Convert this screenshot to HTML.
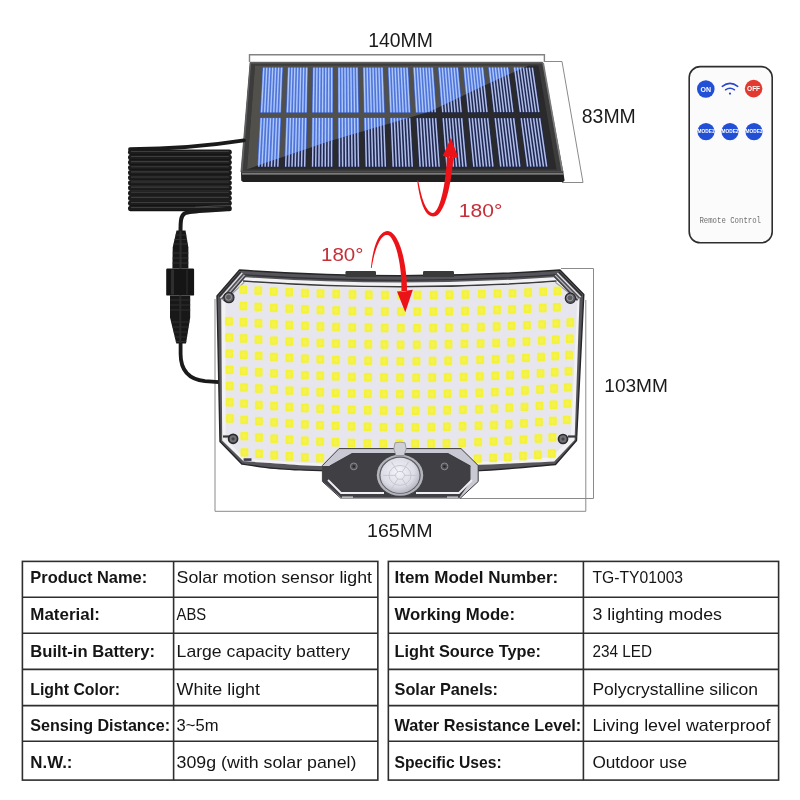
<!DOCTYPE html><html><head><meta charset="utf-8"><style>
html,body{margin:0;padding:0;background:#fff;width:800px;height:800px;overflow:hidden}
svg{position:absolute;left:0;top:0;display:block;will-change:transform}
text{font-family:"Liberation Sans",sans-serif}
</style></head><body>
<svg width="800" height="800" viewBox="0 0 800 800">
<defs>
<clipPath id="brightClip"><polygon points="236,173 330,141 430,111.5 480,87.5 536,62 548,56 236,56"/></clipPath>
<linearGradient id="coilG" x1="0" y1="0" x2="0" y2="1"><stop offset="0" stop-color="#2a2a2a"/><stop offset="1" stop-color="#141414"/></linearGradient>
<radialGradient id="sensG" cx="0.45" cy="0.4" r="0.6"><stop offset="0" stop-color="#f4f4fa"/><stop offset="0.7" stop-color="#dcdce6"/><stop offset="1" stop-color="#b8b8c4"/></radialGradient>
<filter id="ledBlur" x="-5%" y="-5%" width="110%" height="110%"><feGaussianBlur stdDeviation="0.8"/></filter>
<filter id="ledBlur2" x="-5%" y="-5%" width="110%" height="110%"><feGaussianBlur stdDeviation="0.35"/></filter>
</defs>
<path d="M249.5,62 V54.8 H544.4 V62" fill="none" stroke="#828282" stroke-width="1.4"/>
<path d="M544,61.5 H562 L583,182.5 H562" fill="none" stroke="#8a8a8a" stroke-width="1"/>
<path d="M561,268.5 H593.5 V498.5 H460" fill="none" stroke="#8a8a8a" stroke-width="1"/>
<path d="M215,299 V511.3 H585.8 V300" fill="none" stroke="#8a8a8a" stroke-width="1"/>
<polygon points="241,170 563,170 564.6,180.5 563,182 243,182 241.2,180.5" fill="#202020"/>
<line x1="242" y1="173.8" x2="563.5" y2="173.8" stroke="#9a9a9a" stroke-width="1.3"/>
<polygon points="250.2,62.3 542.6,62.3 562.9,172 241,172" fill="#3c3c3c"/>
<polygon points="250.2,62.3 542.6,62.3 562.9,172 241,172" fill="none" stroke="#5a5a5a" stroke-width="1"/>
<line x1="543.2" y1="63" x2="562.2" y2="171" stroke="#7c7c7c" stroke-width="1.6"/>
<line x1="250.5" y1="63.2" x2="242" y2="171" stroke="#606060" stroke-width="1.2"/>
<line x1="251" y1="62.9" x2="542" y2="62.9" stroke="#626262" stroke-width="1.2"/>
<polygon points="255,65.5 538.5,65.5 556.5,169.5 247,169.5" fill="#2a2a2c"/>
<polygon points="255,65.5 538.5,65.5 556.5,169.5 247,169.5" fill="#52504a" clip-path="url(#brightClip)"/>
<g>
<polygon points="262.4,67.2 283.05,67.2 281.37,112.7 260.03,112.7" fill="#1e2850"/>
<polygon points="287.46,67.2 308.12,67.2 307.27,112.7 285.93,112.7" fill="#1e2850"/>
<polygon points="312.53,67.2 333.18,67.2 333.17,112.7 311.83,112.7" fill="#1e2850"/>
<polygon points="337.59,67.2 358.25,67.2 359.06,112.7 337.72,112.7" fill="#1e2850"/>
<polygon points="362.66,67.2 383.31,67.2 384.96,112.7 363.62,112.7" fill="#1e2850"/>
<polygon points="387.72,67.2 408.38,67.2 410.86,112.7 389.52,112.7" fill="#1e2850"/>
<polygon points="412.79,67.2 433.44,67.2 436.76,112.7 415.42,112.7" fill="#1e2850"/>
<polygon points="437.85,67.2 458.51,67.2 462.65,112.7 441.31,112.7" fill="#1e2850"/>
<polygon points="462.92,67.2 483.57,67.2 488.55,112.7 467.21,112.7" fill="#1e2850"/>
<polygon points="487.98,67.2 508.64,67.2 514.45,112.7 493.11,112.7" fill="#1e2850"/>
<polygon points="513.05,67.2 533.7,67.2 540.34,112.7 519,112.7" fill="#1e2850"/>
<polygon points="259.78,117.6 281.19,117.6 279.36,167.2 257.2,167.2" fill="#1e2850"/>
<polygon points="285.77,117.6 307.18,117.6 306.25,167.2 284.09,167.2" fill="#1e2850"/>
<polygon points="311.75,117.6 333.17,117.6 333.15,167.2 310.99,167.2" fill="#1e2850"/>
<polygon points="337.74,117.6 359.15,117.6 360.04,167.2 337.88,167.2" fill="#1e2850"/>
<polygon points="363.73,117.6 385.14,117.6 386.94,167.2 364.78,167.2" fill="#1e2850"/>
<polygon points="389.71,117.6 411.13,117.6 413.83,167.2 391.67,167.2" fill="#1e2850"/>
<polygon points="415.7,117.6 437.11,117.6 440.72,167.2 418.56,167.2" fill="#1e2850"/>
<polygon points="441.69,117.6 463.1,117.6 467.62,167.2 445.46,167.2" fill="#1e2850"/>
<polygon points="467.67,117.6 489.09,117.6 494.51,167.2 472.35,167.2" fill="#1e2850"/>
<polygon points="493.66,117.6 515.07,117.6 521.41,167.2 499.25,167.2" fill="#1e2850"/>
<polygon points="519.65,117.6 541.06,117.6 548.3,167.2 526.14,167.2" fill="#1e2850"/>
<g stroke="#b2bee8" stroke-width="1.5"><line x1="263.85" y1="67.7" x2="261.58" y2="112.2"/><line x1="266.8" y1="67.7" x2="264.63" y2="112.2"/><line x1="269.75" y1="67.7" x2="267.68" y2="112.2"/><line x1="272.7" y1="67.7" x2="270.73" y2="112.2"/><line x1="275.66" y1="67.7" x2="273.77" y2="112.2"/><line x1="278.61" y1="67.7" x2="276.82" y2="112.2"/><line x1="281.56" y1="67.7" x2="279.87" y2="112.2"/><line x1="288.92" y1="67.7" x2="287.47" y2="112.2"/><line x1="291.88" y1="67.7" x2="290.52" y2="112.2"/><line x1="294.83" y1="67.7" x2="293.57" y2="112.2"/><line x1="297.78" y1="67.7" x2="296.61" y2="112.2"/><line x1="300.73" y1="67.7" x2="299.66" y2="112.2"/><line x1="303.68" y1="67.7" x2="302.71" y2="112.2"/><line x1="306.63" y1="67.7" x2="305.76" y2="112.2"/><line x1="314" y1="67.7" x2="313.36" y2="112.2"/><line x1="316.95" y1="67.7" x2="316.41" y2="112.2"/><line x1="319.9" y1="67.7" x2="319.45" y2="112.2"/><line x1="322.85" y1="67.7" x2="322.5" y2="112.2"/><line x1="325.8" y1="67.7" x2="325.55" y2="112.2"/><line x1="328.76" y1="67.7" x2="328.6" y2="112.2"/><line x1="331.71" y1="67.7" x2="331.64" y2="112.2"/><line x1="339.07" y1="67.7" x2="339.25" y2="112.2"/><line x1="342.02" y1="67.7" x2="342.29" y2="112.2"/><line x1="344.97" y1="67.7" x2="345.34" y2="112.2"/><line x1="347.93" y1="67.7" x2="348.39" y2="112.2"/><line x1="350.88" y1="67.7" x2="351.44" y2="112.2"/><line x1="353.83" y1="67.7" x2="354.48" y2="112.2"/><line x1="356.78" y1="67.7" x2="357.53" y2="112.2"/><line x1="364.15" y1="67.7" x2="365.14" y2="112.2"/><line x1="367.1" y1="67.7" x2="368.18" y2="112.2"/><line x1="370.05" y1="67.7" x2="371.23" y2="112.2"/><line x1="373" y1="67.7" x2="374.28" y2="112.2"/><line x1="375.95" y1="67.7" x2="377.32" y2="112.2"/><line x1="378.9" y1="67.7" x2="380.37" y2="112.2"/><line x1="381.85" y1="67.7" x2="383.42" y2="112.2"/><line x1="389.22" y1="67.7" x2="391.02" y2="112.2"/><line x1="392.17" y1="67.7" x2="394.07" y2="112.2"/><line x1="395.12" y1="67.7" x2="397.12" y2="112.2"/><line x1="398.07" y1="67.7" x2="400.16" y2="112.2"/><line x1="401.03" y1="67.7" x2="403.21" y2="112.2"/><line x1="403.98" y1="67.7" x2="406.26" y2="112.2"/><line x1="406.93" y1="67.7" x2="409.31" y2="112.2"/><line x1="414.29" y1="67.7" x2="416.91" y2="112.2"/><line x1="417.24" y1="67.7" x2="419.96" y2="112.2"/><line x1="420.2" y1="67.7" x2="423.01" y2="112.2"/><line x1="423.15" y1="67.7" x2="426.05" y2="112.2"/><line x1="426.1" y1="67.7" x2="429.1" y2="112.2"/><line x1="429.05" y1="67.7" x2="432.15" y2="112.2"/><line x1="432" y1="67.7" x2="435.19" y2="112.2"/><line x1="439.37" y1="67.7" x2="442.8" y2="112.2"/><line x1="442.32" y1="67.7" x2="445.85" y2="112.2"/><line x1="445.27" y1="67.7" x2="448.89" y2="112.2"/><line x1="448.22" y1="67.7" x2="451.94" y2="112.2"/><line x1="451.17" y1="67.7" x2="454.99" y2="112.2"/><line x1="454.12" y1="67.7" x2="458.04" y2="112.2"/><line x1="457.08" y1="67.7" x2="461.08" y2="112.2"/><line x1="464.44" y1="67.7" x2="468.69" y2="112.2"/><line x1="467.39" y1="67.7" x2="471.73" y2="112.2"/><line x1="470.34" y1="67.7" x2="474.78" y2="112.2"/><line x1="473.29" y1="67.7" x2="477.83" y2="112.2"/><line x1="476.25" y1="67.7" x2="480.88" y2="112.2"/><line x1="479.2" y1="67.7" x2="483.92" y2="112.2"/><line x1="482.15" y1="67.7" x2="486.97" y2="112.2"/><line x1="489.51" y1="67.7" x2="494.57" y2="112.2"/><line x1="492.47" y1="67.7" x2="497.62" y2="112.2"/><line x1="495.42" y1="67.7" x2="500.67" y2="112.2"/><line x1="498.37" y1="67.7" x2="503.72" y2="112.2"/><line x1="501.32" y1="67.7" x2="506.76" y2="112.2"/><line x1="504.27" y1="67.7" x2="509.81" y2="112.2"/><line x1="507.22" y1="67.7" x2="512.86" y2="112.2"/><line x1="514.59" y1="67.7" x2="520.46" y2="112.2"/><line x1="517.54" y1="67.7" x2="523.51" y2="112.2"/><line x1="520.49" y1="67.7" x2="526.56" y2="112.2"/><line x1="523.44" y1="67.7" x2="529.6" y2="112.2"/><line x1="526.39" y1="67.7" x2="532.65" y2="112.2"/><line x1="529.35" y1="67.7" x2="535.7" y2="112.2"/><line x1="532.3" y1="67.7" x2="538.75" y2="112.2"/><line x1="261.28" y1="118.1" x2="258.81" y2="166.7"/><line x1="264.34" y1="118.1" x2="261.97" y2="166.7"/><line x1="267.4" y1="118.1" x2="265.14" y2="166.7"/><line x1="270.46" y1="118.1" x2="268.3" y2="166.7"/><line x1="273.52" y1="118.1" x2="271.47" y2="166.7"/><line x1="276.58" y1="118.1" x2="274.63" y2="166.7"/><line x1="279.64" y1="118.1" x2="277.8" y2="166.7"/><line x1="287.28" y1="118.1" x2="285.69" y2="166.7"/><line x1="290.34" y1="118.1" x2="288.86" y2="166.7"/><line x1="293.4" y1="118.1" x2="292.02" y2="166.7"/><line x1="296.46" y1="118.1" x2="295.19" y2="166.7"/><line x1="299.52" y1="118.1" x2="298.35" y2="166.7"/><line x1="302.58" y1="118.1" x2="301.52" y2="166.7"/><line x1="305.64" y1="118.1" x2="304.68" y2="166.7"/><line x1="313.27" y1="118.1" x2="312.58" y2="166.7"/><line x1="316.33" y1="118.1" x2="315.74" y2="166.7"/><line x1="319.39" y1="118.1" x2="318.91" y2="166.7"/><line x1="322.45" y1="118.1" x2="322.07" y2="166.7"/><line x1="325.52" y1="118.1" x2="325.24" y2="166.7"/><line x1="328.58" y1="118.1" x2="328.4" y2="166.7"/><line x1="331.64" y1="118.1" x2="331.57" y2="166.7"/><line x1="339.27" y1="118.1" x2="339.46" y2="166.7"/><line x1="342.33" y1="118.1" x2="342.63" y2="166.7"/><line x1="345.39" y1="118.1" x2="345.79" y2="166.7"/><line x1="348.45" y1="118.1" x2="348.96" y2="166.7"/><line x1="351.51" y1="118.1" x2="352.12" y2="166.7"/><line x1="354.57" y1="118.1" x2="355.29" y2="166.7"/><line x1="357.63" y1="118.1" x2="358.45" y2="166.7"/><line x1="365.27" y1="118.1" x2="366.35" y2="166.7"/><line x1="368.33" y1="118.1" x2="369.51" y2="166.7"/><line x1="371.39" y1="118.1" x2="372.68" y2="166.7"/><line x1="374.45" y1="118.1" x2="375.84" y2="166.7"/><line x1="377.51" y1="118.1" x2="379.01" y2="166.7"/><line x1="380.57" y1="118.1" x2="382.17" y2="166.7"/><line x1="383.63" y1="118.1" x2="385.34" y2="166.7"/><line x1="391.26" y1="118.1" x2="393.23" y2="166.7"/><line x1="394.32" y1="118.1" x2="396.4" y2="166.7"/><line x1="397.38" y1="118.1" x2="399.56" y2="166.7"/><line x1="400.44" y1="118.1" x2="402.73" y2="166.7"/><line x1="403.5" y1="118.1" x2="405.89" y2="166.7"/><line x1="406.56" y1="118.1" x2="409.06" y2="166.7"/><line x1="409.62" y1="118.1" x2="412.22" y2="166.7"/><line x1="417.26" y1="118.1" x2="420.12" y2="166.7"/><line x1="420.32" y1="118.1" x2="423.28" y2="166.7"/><line x1="423.38" y1="118.1" x2="426.45" y2="166.7"/><line x1="426.44" y1="118.1" x2="429.61" y2="166.7"/><line x1="429.5" y1="118.1" x2="432.78" y2="166.7"/><line x1="432.56" y1="118.1" x2="435.94" y2="166.7"/><line x1="435.62" y1="118.1" x2="439.11" y2="166.7"/><line x1="443.25" y1="118.1" x2="447" y2="166.7"/><line x1="446.31" y1="118.1" x2="450.17" y2="166.7"/><line x1="449.37" y1="118.1" x2="453.33" y2="166.7"/><line x1="452.43" y1="118.1" x2="456.5" y2="166.7"/><line x1="455.49" y1="118.1" x2="459.66" y2="166.7"/><line x1="458.55" y1="118.1" x2="462.83" y2="166.7"/><line x1="461.61" y1="118.1" x2="465.99" y2="166.7"/><line x1="469.25" y1="118.1" x2="473.89" y2="166.7"/><line x1="472.31" y1="118.1" x2="477.05" y2="166.7"/><line x1="475.37" y1="118.1" x2="480.22" y2="166.7"/><line x1="478.43" y1="118.1" x2="483.38" y2="166.7"/><line x1="481.49" y1="118.1" x2="486.55" y2="166.7"/><line x1="484.55" y1="118.1" x2="489.71" y2="166.7"/><line x1="487.61" y1="118.1" x2="492.88" y2="166.7"/><line x1="495.25" y1="118.1" x2="500.77" y2="166.7"/><line x1="498.31" y1="118.1" x2="503.94" y2="166.7"/><line x1="501.37" y1="118.1" x2="507.1" y2="166.7"/><line x1="504.43" y1="118.1" x2="510.27" y2="166.7"/><line x1="507.49" y1="118.1" x2="513.43" y2="166.7"/><line x1="510.55" y1="118.1" x2="516.6" y2="166.7"/><line x1="513.61" y1="118.1" x2="519.76" y2="166.7"/><line x1="521.24" y1="118.1" x2="527.66" y2="166.7"/><line x1="524.3" y1="118.1" x2="530.82" y2="166.7"/><line x1="527.36" y1="118.1" x2="533.99" y2="166.7"/><line x1="530.42" y1="118.1" x2="537.15" y2="166.7"/><line x1="533.48" y1="118.1" x2="540.32" y2="166.7"/><line x1="536.54" y1="118.1" x2="543.48" y2="166.7"/><line x1="539.6" y1="118.1" x2="546.64" y2="166.7"/></g>
</g>
<g clip-path="url(#brightClip)">
<polygon points="262.4,67.2 283.05,67.2 281.37,112.7 260.03,112.7" fill="#4f74d8"/>
<polygon points="287.46,67.2 308.12,67.2 307.27,112.7 285.93,112.7" fill="#4f74d8"/>
<polygon points="312.53,67.2 333.18,67.2 333.17,112.7 311.83,112.7" fill="#4f74d8"/>
<polygon points="337.59,67.2 358.25,67.2 359.06,112.7 337.72,112.7" fill="#4f74d8"/>
<polygon points="362.66,67.2 383.31,67.2 384.96,112.7 363.62,112.7" fill="#4f74d8"/>
<polygon points="387.72,67.2 408.38,67.2 410.86,112.7 389.52,112.7" fill="#4f74d8"/>
<polygon points="412.79,67.2 433.44,67.2 436.76,112.7 415.42,112.7" fill="#4f74d8"/>
<polygon points="437.85,67.2 458.51,67.2 462.65,112.7 441.31,112.7" fill="#4f74d8"/>
<polygon points="462.92,67.2 483.57,67.2 488.55,112.7 467.21,112.7" fill="#4f74d8"/>
<polygon points="487.98,67.2 508.64,67.2 514.45,112.7 493.11,112.7" fill="#4f74d8"/>
<polygon points="513.05,67.2 533.7,67.2 540.34,112.7 519,112.7" fill="#4f74d8"/>
<polygon points="259.78,117.6 281.19,117.6 279.36,167.2 257.2,167.2" fill="#4f74d8"/>
<polygon points="285.77,117.6 307.18,117.6 306.25,167.2 284.09,167.2" fill="#4f74d8"/>
<polygon points="311.75,117.6 333.17,117.6 333.15,167.2 310.99,167.2" fill="#4f74d8"/>
<polygon points="337.74,117.6 359.15,117.6 360.04,167.2 337.88,167.2" fill="#4f74d8"/>
<polygon points="363.73,117.6 385.14,117.6 386.94,167.2 364.78,167.2" fill="#4f74d8"/>
<polygon points="389.71,117.6 411.13,117.6 413.83,167.2 391.67,167.2" fill="#4f74d8"/>
<polygon points="415.7,117.6 437.11,117.6 440.72,167.2 418.56,167.2" fill="#4f74d8"/>
<polygon points="441.69,117.6 463.1,117.6 467.62,167.2 445.46,167.2" fill="#4f74d8"/>
<polygon points="467.67,117.6 489.09,117.6 494.51,167.2 472.35,167.2" fill="#4f74d8"/>
<polygon points="493.66,117.6 515.07,117.6 521.41,167.2 499.25,167.2" fill="#4f74d8"/>
<polygon points="519.65,117.6 541.06,117.6 548.3,167.2 526.14,167.2" fill="#4f74d8"/>
<g stroke="#aec8fc" stroke-width="1.4"><line x1="263.85" y1="67.7" x2="261.58" y2="112.2"/><line x1="266.8" y1="67.7" x2="264.63" y2="112.2"/><line x1="269.75" y1="67.7" x2="267.68" y2="112.2"/><line x1="272.7" y1="67.7" x2="270.73" y2="112.2"/><line x1="275.66" y1="67.7" x2="273.77" y2="112.2"/><line x1="278.61" y1="67.7" x2="276.82" y2="112.2"/><line x1="281.56" y1="67.7" x2="279.87" y2="112.2"/><line x1="288.92" y1="67.7" x2="287.47" y2="112.2"/><line x1="291.88" y1="67.7" x2="290.52" y2="112.2"/><line x1="294.83" y1="67.7" x2="293.57" y2="112.2"/><line x1="297.78" y1="67.7" x2="296.61" y2="112.2"/><line x1="300.73" y1="67.7" x2="299.66" y2="112.2"/><line x1="303.68" y1="67.7" x2="302.71" y2="112.2"/><line x1="306.63" y1="67.7" x2="305.76" y2="112.2"/><line x1="314" y1="67.7" x2="313.36" y2="112.2"/><line x1="316.95" y1="67.7" x2="316.41" y2="112.2"/><line x1="319.9" y1="67.7" x2="319.45" y2="112.2"/><line x1="322.85" y1="67.7" x2="322.5" y2="112.2"/><line x1="325.8" y1="67.7" x2="325.55" y2="112.2"/><line x1="328.76" y1="67.7" x2="328.6" y2="112.2"/><line x1="331.71" y1="67.7" x2="331.64" y2="112.2"/><line x1="339.07" y1="67.7" x2="339.25" y2="112.2"/><line x1="342.02" y1="67.7" x2="342.29" y2="112.2"/><line x1="344.97" y1="67.7" x2="345.34" y2="112.2"/><line x1="347.93" y1="67.7" x2="348.39" y2="112.2"/><line x1="350.88" y1="67.7" x2="351.44" y2="112.2"/><line x1="353.83" y1="67.7" x2="354.48" y2="112.2"/><line x1="356.78" y1="67.7" x2="357.53" y2="112.2"/><line x1="364.15" y1="67.7" x2="365.14" y2="112.2"/><line x1="367.1" y1="67.7" x2="368.18" y2="112.2"/><line x1="370.05" y1="67.7" x2="371.23" y2="112.2"/><line x1="373" y1="67.7" x2="374.28" y2="112.2"/><line x1="375.95" y1="67.7" x2="377.32" y2="112.2"/><line x1="378.9" y1="67.7" x2="380.37" y2="112.2"/><line x1="381.85" y1="67.7" x2="383.42" y2="112.2"/><line x1="389.22" y1="67.7" x2="391.02" y2="112.2"/><line x1="392.17" y1="67.7" x2="394.07" y2="112.2"/><line x1="395.12" y1="67.7" x2="397.12" y2="112.2"/><line x1="398.07" y1="67.7" x2="400.16" y2="112.2"/><line x1="401.03" y1="67.7" x2="403.21" y2="112.2"/><line x1="403.98" y1="67.7" x2="406.26" y2="112.2"/><line x1="406.93" y1="67.7" x2="409.31" y2="112.2"/><line x1="414.29" y1="67.7" x2="416.91" y2="112.2"/><line x1="417.24" y1="67.7" x2="419.96" y2="112.2"/><line x1="420.2" y1="67.7" x2="423.01" y2="112.2"/><line x1="423.15" y1="67.7" x2="426.05" y2="112.2"/><line x1="426.1" y1="67.7" x2="429.1" y2="112.2"/><line x1="429.05" y1="67.7" x2="432.15" y2="112.2"/><line x1="432" y1="67.7" x2="435.19" y2="112.2"/><line x1="439.37" y1="67.7" x2="442.8" y2="112.2"/><line x1="442.32" y1="67.7" x2="445.85" y2="112.2"/><line x1="445.27" y1="67.7" x2="448.89" y2="112.2"/><line x1="448.22" y1="67.7" x2="451.94" y2="112.2"/><line x1="451.17" y1="67.7" x2="454.99" y2="112.2"/><line x1="454.12" y1="67.7" x2="458.04" y2="112.2"/><line x1="457.08" y1="67.7" x2="461.08" y2="112.2"/><line x1="464.44" y1="67.7" x2="468.69" y2="112.2"/><line x1="467.39" y1="67.7" x2="471.73" y2="112.2"/><line x1="470.34" y1="67.7" x2="474.78" y2="112.2"/><line x1="473.29" y1="67.7" x2="477.83" y2="112.2"/><line x1="476.25" y1="67.7" x2="480.88" y2="112.2"/><line x1="479.2" y1="67.7" x2="483.92" y2="112.2"/><line x1="482.15" y1="67.7" x2="486.97" y2="112.2"/><line x1="489.51" y1="67.7" x2="494.57" y2="112.2"/><line x1="492.47" y1="67.7" x2="497.62" y2="112.2"/><line x1="495.42" y1="67.7" x2="500.67" y2="112.2"/><line x1="498.37" y1="67.7" x2="503.72" y2="112.2"/><line x1="501.32" y1="67.7" x2="506.76" y2="112.2"/><line x1="504.27" y1="67.7" x2="509.81" y2="112.2"/><line x1="507.22" y1="67.7" x2="512.86" y2="112.2"/><line x1="514.59" y1="67.7" x2="520.46" y2="112.2"/><line x1="517.54" y1="67.7" x2="523.51" y2="112.2"/><line x1="520.49" y1="67.7" x2="526.56" y2="112.2"/><line x1="523.44" y1="67.7" x2="529.6" y2="112.2"/><line x1="526.39" y1="67.7" x2="532.65" y2="112.2"/><line x1="529.35" y1="67.7" x2="535.7" y2="112.2"/><line x1="532.3" y1="67.7" x2="538.75" y2="112.2"/><line x1="261.28" y1="118.1" x2="258.81" y2="166.7"/><line x1="264.34" y1="118.1" x2="261.97" y2="166.7"/><line x1="267.4" y1="118.1" x2="265.14" y2="166.7"/><line x1="270.46" y1="118.1" x2="268.3" y2="166.7"/><line x1="273.52" y1="118.1" x2="271.47" y2="166.7"/><line x1="276.58" y1="118.1" x2="274.63" y2="166.7"/><line x1="279.64" y1="118.1" x2="277.8" y2="166.7"/><line x1="287.28" y1="118.1" x2="285.69" y2="166.7"/><line x1="290.34" y1="118.1" x2="288.86" y2="166.7"/><line x1="293.4" y1="118.1" x2="292.02" y2="166.7"/><line x1="296.46" y1="118.1" x2="295.19" y2="166.7"/><line x1="299.52" y1="118.1" x2="298.35" y2="166.7"/><line x1="302.58" y1="118.1" x2="301.52" y2="166.7"/><line x1="305.64" y1="118.1" x2="304.68" y2="166.7"/><line x1="313.27" y1="118.1" x2="312.58" y2="166.7"/><line x1="316.33" y1="118.1" x2="315.74" y2="166.7"/><line x1="319.39" y1="118.1" x2="318.91" y2="166.7"/><line x1="322.45" y1="118.1" x2="322.07" y2="166.7"/><line x1="325.52" y1="118.1" x2="325.24" y2="166.7"/><line x1="328.58" y1="118.1" x2="328.4" y2="166.7"/><line x1="331.64" y1="118.1" x2="331.57" y2="166.7"/><line x1="339.27" y1="118.1" x2="339.46" y2="166.7"/><line x1="342.33" y1="118.1" x2="342.63" y2="166.7"/><line x1="345.39" y1="118.1" x2="345.79" y2="166.7"/><line x1="348.45" y1="118.1" x2="348.96" y2="166.7"/><line x1="351.51" y1="118.1" x2="352.12" y2="166.7"/><line x1="354.57" y1="118.1" x2="355.29" y2="166.7"/><line x1="357.63" y1="118.1" x2="358.45" y2="166.7"/><line x1="365.27" y1="118.1" x2="366.35" y2="166.7"/><line x1="368.33" y1="118.1" x2="369.51" y2="166.7"/><line x1="371.39" y1="118.1" x2="372.68" y2="166.7"/><line x1="374.45" y1="118.1" x2="375.84" y2="166.7"/><line x1="377.51" y1="118.1" x2="379.01" y2="166.7"/><line x1="380.57" y1="118.1" x2="382.17" y2="166.7"/><line x1="383.63" y1="118.1" x2="385.34" y2="166.7"/><line x1="391.26" y1="118.1" x2="393.23" y2="166.7"/><line x1="394.32" y1="118.1" x2="396.4" y2="166.7"/><line x1="397.38" y1="118.1" x2="399.56" y2="166.7"/><line x1="400.44" y1="118.1" x2="402.73" y2="166.7"/><line x1="403.5" y1="118.1" x2="405.89" y2="166.7"/><line x1="406.56" y1="118.1" x2="409.06" y2="166.7"/><line x1="409.62" y1="118.1" x2="412.22" y2="166.7"/><line x1="417.26" y1="118.1" x2="420.12" y2="166.7"/><line x1="420.32" y1="118.1" x2="423.28" y2="166.7"/><line x1="423.38" y1="118.1" x2="426.45" y2="166.7"/><line x1="426.44" y1="118.1" x2="429.61" y2="166.7"/><line x1="429.5" y1="118.1" x2="432.78" y2="166.7"/><line x1="432.56" y1="118.1" x2="435.94" y2="166.7"/><line x1="435.62" y1="118.1" x2="439.11" y2="166.7"/><line x1="443.25" y1="118.1" x2="447" y2="166.7"/><line x1="446.31" y1="118.1" x2="450.17" y2="166.7"/><line x1="449.37" y1="118.1" x2="453.33" y2="166.7"/><line x1="452.43" y1="118.1" x2="456.5" y2="166.7"/><line x1="455.49" y1="118.1" x2="459.66" y2="166.7"/><line x1="458.55" y1="118.1" x2="462.83" y2="166.7"/><line x1="461.61" y1="118.1" x2="465.99" y2="166.7"/><line x1="469.25" y1="118.1" x2="473.89" y2="166.7"/><line x1="472.31" y1="118.1" x2="477.05" y2="166.7"/><line x1="475.37" y1="118.1" x2="480.22" y2="166.7"/><line x1="478.43" y1="118.1" x2="483.38" y2="166.7"/><line x1="481.49" y1="118.1" x2="486.55" y2="166.7"/><line x1="484.55" y1="118.1" x2="489.71" y2="166.7"/><line x1="487.61" y1="118.1" x2="492.88" y2="166.7"/><line x1="495.25" y1="118.1" x2="500.77" y2="166.7"/><line x1="498.31" y1="118.1" x2="503.94" y2="166.7"/><line x1="501.37" y1="118.1" x2="507.1" y2="166.7"/><line x1="504.43" y1="118.1" x2="510.27" y2="166.7"/><line x1="507.49" y1="118.1" x2="513.43" y2="166.7"/><line x1="510.55" y1="118.1" x2="516.6" y2="166.7"/><line x1="513.61" y1="118.1" x2="519.76" y2="166.7"/><line x1="521.24" y1="118.1" x2="527.66" y2="166.7"/><line x1="524.3" y1="118.1" x2="530.82" y2="166.7"/><line x1="527.36" y1="118.1" x2="533.99" y2="166.7"/><line x1="530.42" y1="118.1" x2="537.15" y2="166.7"/><line x1="533.48" y1="118.1" x2="540.32" y2="166.7"/><line x1="536.54" y1="118.1" x2="543.48" y2="166.7"/><line x1="539.6" y1="118.1" x2="546.64" y2="166.7"/></g>
</g>
<rect x="128" y="149.6" width="103.8" height="5.3" rx="2.55" fill="#1c1c1c"/>
<line x1="131" y1="151.44" x2="228.8" y2="151.44" stroke="#3d3d3d" stroke-width="1.1"/>
<line x1="130" y1="154.7" x2="229.8" y2="154.7" stroke="#0d0d0d" stroke-width="0.8"/>
<rect x="128" y="154.7" width="103.8" height="5.3" rx="2.55" fill="#1c1c1c"/>
<line x1="131" y1="156.54" x2="228.8" y2="156.54" stroke="#3d3d3d" stroke-width="1.1"/>
<line x1="130" y1="159.8" x2="229.8" y2="159.8" stroke="#0d0d0d" stroke-width="0.8"/>
<rect x="128" y="159.8" width="103.8" height="5.3" rx="2.55" fill="#1c1c1c"/>
<line x1="131" y1="161.64" x2="228.8" y2="161.64" stroke="#3d3d3d" stroke-width="1.1"/>
<line x1="130" y1="164.9" x2="229.8" y2="164.9" stroke="#0d0d0d" stroke-width="0.8"/>
<rect x="128" y="164.9" width="103.8" height="5.3" rx="2.55" fill="#1c1c1c"/>
<line x1="131" y1="166.74" x2="228.8" y2="166.74" stroke="#3d3d3d" stroke-width="1.1"/>
<line x1="130" y1="170" x2="229.8" y2="170" stroke="#0d0d0d" stroke-width="0.8"/>
<rect x="128" y="170" width="103.8" height="5.3" rx="2.55" fill="#1c1c1c"/>
<line x1="131" y1="171.84" x2="228.8" y2="171.84" stroke="#3d3d3d" stroke-width="1.1"/>
<line x1="130" y1="175.1" x2="229.8" y2="175.1" stroke="#0d0d0d" stroke-width="0.8"/>
<rect x="128" y="175.1" width="103.8" height="5.3" rx="2.55" fill="#1c1c1c"/>
<line x1="131" y1="176.94" x2="228.8" y2="176.94" stroke="#3d3d3d" stroke-width="1.1"/>
<line x1="130" y1="180.2" x2="229.8" y2="180.2" stroke="#0d0d0d" stroke-width="0.8"/>
<rect x="128" y="180.2" width="103.8" height="5.3" rx="2.55" fill="#1c1c1c"/>
<line x1="131" y1="182.04" x2="228.8" y2="182.04" stroke="#3d3d3d" stroke-width="1.1"/>
<line x1="130" y1="185.3" x2="229.8" y2="185.3" stroke="#0d0d0d" stroke-width="0.8"/>
<rect x="128" y="185.3" width="103.8" height="5.3" rx="2.55" fill="#1c1c1c"/>
<line x1="131" y1="187.14" x2="228.8" y2="187.14" stroke="#3d3d3d" stroke-width="1.1"/>
<line x1="130" y1="190.4" x2="229.8" y2="190.4" stroke="#0d0d0d" stroke-width="0.8"/>
<rect x="128" y="190.4" width="103.8" height="5.3" rx="2.55" fill="#1c1c1c"/>
<line x1="131" y1="192.24" x2="228.8" y2="192.24" stroke="#3d3d3d" stroke-width="1.1"/>
<line x1="130" y1="195.5" x2="229.8" y2="195.5" stroke="#0d0d0d" stroke-width="0.8"/>
<rect x="128" y="195.5" width="103.8" height="5.3" rx="2.55" fill="#1c1c1c"/>
<line x1="131" y1="197.34" x2="228.8" y2="197.34" stroke="#3d3d3d" stroke-width="1.1"/>
<line x1="130" y1="200.6" x2="229.8" y2="200.6" stroke="#0d0d0d" stroke-width="0.8"/>
<rect x="128" y="200.6" width="103.8" height="5.3" rx="2.55" fill="#1c1c1c"/>
<line x1="131" y1="202.44" x2="228.8" y2="202.44" stroke="#3d3d3d" stroke-width="1.1"/>
<line x1="130" y1="205.7" x2="229.8" y2="205.7" stroke="#0d0d0d" stroke-width="0.8"/>
<rect x="128" y="205.7" width="103.8" height="5.3" rx="2.55" fill="#1c1c1c"/>
<line x1="131" y1="207.54" x2="228.8" y2="207.54" stroke="#3d3d3d" stroke-width="1.1"/>
<line x1="130" y1="210.8" x2="229.8" y2="210.8" stroke="#0d0d0d" stroke-width="0.8"/>
<path d="M195,207.3 Q215,205.6 231,205.5" fill="none" stroke="#4a4a4a" stroke-width="1"/>
<path d="M130,149.2 C165,149 205,146.5 244,140.4" fill="none" stroke="#1a1a1a" stroke-width="3.8" stroke-linecap="round"/>
<path d="M231,208.5 C215,211 190,210 184.5,213.5 C180.8,216 180.5,221 180.5,232" fill="none" stroke="#1a1a1a" stroke-width="4"/>
<clipPath id="cpU"><polygon points="176.5,230.5 185.5,230.5 188.4,247.6 188.4,268.6 172.4,268.6 172.7,247.6"/></clipPath><clipPath id="cpL"><polygon points="170,295.4 190.2,295.4 190.2,317.5 186,343.6 176.3,343.6 170,317.5"/></clipPath>
<polygon points="176.5,230.5 185.5,230.5 188.4,247.6 188.4,268.6 172.4,268.6 172.7,247.6" fill="#181818"/>
<g clip-path="url(#cpU)" stroke="#333" stroke-width="0.9">
<line x1="165" y1="235" x2="195" y2="235"/>
<line x1="165" y1="239.5" x2="195" y2="239.5"/>
<line x1="165" y1="244" x2="195" y2="244"/>
<line x1="165" y1="253" x2="195" y2="253"/>
<line x1="165" y1="258" x2="195" y2="258"/>
<line x1="165" y1="263" x2="195" y2="263"/>
<line x1="180.5" y1="230" x2="180.5" y2="269" stroke="#2e2e2e" stroke-width="2"/>
</g>
<rect x="166.2" y="268.5" width="27.9" height="27.1" rx="1.2" fill="#151515"/>
<rect x="171" y="269.5" width="3" height="25" fill="#2e2e2e"/>
<rect x="186" y="269.5" width="2" height="25" fill="#222"/>
<polygon points="170,295.4 190.2,295.4 190.2,317.5 186,343.6 176.3,343.6 170,317.5" fill="#181818"/>
<g clip-path="url(#cpL)" stroke="#323232" stroke-width="0.9">
<line x1="165" y1="300" x2="195" y2="300"/>
<line x1="165" y1="305" x2="195" y2="305"/>
<line x1="165" y1="310" x2="195" y2="310"/>
<line x1="165" y1="322" x2="195" y2="322"/>
<line x1="165" y1="327" x2="195" y2="327"/>
<line x1="165" y1="332" x2="195" y2="332"/>
<line x1="165" y1="337" x2="195" y2="337"/>
<line x1="165" y1="341.5" x2="195" y2="341.5"/>
<line x1="180.3" y1="295" x2="180.3" y2="344" stroke="#2a2a2a" stroke-width="2"/>
</g>
<path d="M180.6,343 L180.6,354 C180.6,371 190,379.5 205,381.2 L219,382.2" fill="none" stroke="#1a1a1a" stroke-width="3.8"/>
<path d="M217,296 L239.5,270 Q400,281.4 560,270 L583.8,294.5 L576.5,440.5 L555.5,464.5 L555.5,464.5 L549.71,465 L542.04,465.7 L532.92,466.54 L522.75,467.45 L511.96,468.37 L500.96,469.25 L490.17,470.01 L480,470.6 L470.22,471.04 L460.32,471.39 L450.33,471.67 L440.28,471.88 L430.2,472.03 L420.11,472.13 L410.03,472.18 L400,472.2 L389.76,472.16 L379.18,472.04 L368.46,471.86 L357.81,471.64 L347.44,471.38 L337.54,471.12 L328.33,470.85 L320,470.6 L312.62,470.37 L306.01,470.14 L300.04,469.92 L294.57,469.68 L289.47,469.41 L284.6,469.12 L279.82,468.78 L275,468.4 L270.06,467.93 L265.09,467.35 L260.23,466.72 L255.59,466.06 L251.3,465.42 L247.49,464.84 L244.28,464.35 L241.8,464 L220,441.5 Z" fill="#55555b" stroke="#262628" stroke-width="1.4" stroke-linejoin="round"/>
<path d="M345.5,277 V272.2 Q345.5,271 346.7,271 H374.8 Q376,271 376,272.2 V277 Z" fill="#3a3a3a"/>
<path d="M423,277 V272.2 Q423,271 424.2,271 H452.8 Q454,271 454,272.2 V277 Z" fill="#3a3a3a"/>
<path d="M241,274.6 Q400,286 558.5,274.6" fill="none" stroke="#333336" stroke-width="1.3"/>
<path d="M219.5,296.5 L240.5,272.5" fill="none" stroke="#8a8a8e" stroke-width="1.6"/>
<path d="M559.5,272.5 L581.5,295.5" fill="none" stroke="#6a6a6e" stroke-width="1.4"/>
<path d="M221.2,298.5 L242,277 Q400,288.2 557.6,277 L579.6,297.5 L574.6,440 L554.2,461.5 L554.2,461.5 L548.52,461.76 L541,462.13 L532.06,462.56 L522.1,463.04 L511.51,463.53 L500.7,464 L490.06,464.44 L480,464.8 L470.28,465.11 L460.41,465.41 L450.42,465.69 L440.36,465.94 L430.25,466.17 L420.14,466.35 L410.04,466.5 L400,466.6 L389.76,466.65 L379.18,466.67 L368.46,466.64 L357.81,466.58 L347.44,466.48 L337.54,466.35 L328.33,466.19 L320,466 L312.61,465.77 L305.97,465.48 L299.97,465.15 L294.47,464.8 L289.35,464.43 L284.48,464.07 L279.74,463.72 L275,463.4 L270.2,463.09 L265.44,462.77 L260.81,462.45 L256.44,462.14 L252.41,461.85 L248.84,461.59 L245.84,461.37 L243.5,461.2 L222.2,440.5 Z" fill="#f2f2f5"/>
<path d="M243,281 Q400,292.4 556.5,281" fill="none" stroke="#3a3a3a" stroke-width="1.5"/>
<path d="M225.4,300 L244.2,282.2 Q400,293.6 555.4,282.2 L577.4,299.5 L570.8,438 L551.5,457.5 L551.5,457.5 L546.04,457.85 L538.85,458.33 L530.3,458.9 L520.75,459.52 L510.58,460.17 L500.15,460.79 L489.83,461.34 L480,461.8 L470.41,462.18 L460.6,462.52 L450.62,462.83 L440.53,463.11 L430.37,463.34 L420.2,463.54 L410.06,463.69 L400,463.8 L389.76,463.86 L379.18,463.88 L368.46,463.84 L357.81,463.77 L347.44,463.67 L337.54,463.54 L328.33,463.38 L320,463.2 L312.59,462.98 L305.93,462.71 L299.88,462.41 L294.34,462.07 L289.2,461.74 L284.34,461.4 L279.64,461.08 L275,460.8 L270.37,460.53 L265.84,460.27 L261.51,460 L257.44,459.75 L253.72,459.52 L250.44,459.31 L247.67,459.13 L245.5,459 L225.6,439 Z" fill="#e7e6ee"/>
<path d="M225.4,300 L244.2,282.2" fill="none" stroke="#9a9aa2" stroke-width="1.2"/>
<path d="M555.4,282.2 L577.4,299.5" fill="none" stroke="#9a9aa2" stroke-width="1.2"/>
<g fill="#f2f08a" opacity="0.5" filter="url(#ledBlur)">
<rect x="238.95" y="285.05" width="8.6" height="9.4" rx="1.6"/>
<rect x="253.95" y="285.97" width="8.6" height="9.4" rx="1.6"/>
<rect x="269.45" y="286.82" width="8.6" height="9.4" rx="1.6"/>
<rect x="284.95" y="287.58" width="8.6" height="9.4" rx="1.6"/>
<rect x="300.7" y="288.26" width="8.6" height="9.4" rx="1.6"/>
<rect x="316.2" y="288.83" width="8.6" height="9.4" rx="1.6"/>
<rect x="331.95" y="289.32" width="8.6" height="9.4" rx="1.6"/>
<rect x="348.2" y="289.73" width="8.6" height="9.4" rx="1.6"/>
<rect x="364.45" y="290.04" width="8.6" height="9.4" rx="1.6"/>
<rect x="380.7" y="290.25" width="8.6" height="9.4" rx="1.6"/>
<rect x="396.95" y="290.35" width="8.6" height="9.4" rx="1.6"/>
<rect x="413.2" y="290.36" width="8.6" height="9.4" rx="1.6"/>
<rect x="429.45" y="290.27" width="8.6" height="9.4" rx="1.6"/>
<rect x="445.2" y="290.08" width="8.6" height="9.4" rx="1.6"/>
<rect x="461.2" y="289.8" width="8.6" height="9.4" rx="1.6"/>
<rect x="477.45" y="289.41" width="8.6" height="9.4" rx="1.6"/>
<rect x="493.2" y="288.93" width="8.6" height="9.4" rx="1.6"/>
<rect x="508.2" y="288.4" width="8.6" height="9.4" rx="1.6"/>
<rect x="523.7" y="287.75" width="8.6" height="9.4" rx="1.6"/>
<rect x="538.95" y="287.02" width="8.6" height="9.4" rx="1.6"/>
<rect x="553.2" y="286.27" width="8.6" height="9.4" rx="1.6"/>
<rect x="239.07" y="301.32" width="8.6" height="9.4" rx="1.6"/>
<rect x="254.03" y="302.28" width="8.6" height="9.4" rx="1.6"/>
<rect x="269.5" y="303.17" width="8.6" height="9.4" rx="1.6"/>
<rect x="284.97" y="303.97" width="8.6" height="9.4" rx="1.6"/>
<rect x="300.68" y="304.68" width="8.6" height="9.4" rx="1.6"/>
<rect x="316.15" y="305.29" width="8.6" height="9.4" rx="1.6"/>
<rect x="331.86" y="305.8" width="8.6" height="9.4" rx="1.6"/>
<rect x="348.08" y="306.23" width="8.6" height="9.4" rx="1.6"/>
<rect x="364.29" y="306.55" width="8.6" height="9.4" rx="1.6"/>
<rect x="380.51" y="306.76" width="8.6" height="9.4" rx="1.6"/>
<rect x="396.72" y="306.87" width="8.6" height="9.4" rx="1.6"/>
<rect x="412.94" y="306.88" width="8.6" height="9.4" rx="1.6"/>
<rect x="429.15" y="306.78" width="8.6" height="9.4" rx="1.6"/>
<rect x="444.87" y="306.58" width="8.6" height="9.4" rx="1.6"/>
<rect x="460.83" y="306.27" width="8.6" height="9.4" rx="1.6"/>
<rect x="477.05" y="305.86" width="8.6" height="9.4" rx="1.6"/>
<rect x="492.76" y="305.35" width="8.6" height="9.4" rx="1.6"/>
<rect x="507.73" y="304.78" width="8.6" height="9.4" rx="1.6"/>
<rect x="523.19" y="304.1" width="8.6" height="9.4" rx="1.6"/>
<rect x="538.41" y="303.33" width="8.6" height="9.4" rx="1.6"/>
<rect x="552.63" y="302.53" width="8.6" height="9.4" rx="1.6"/>
<rect x="224.75" y="316.52" width="8.6" height="9.4" rx="1.6"/>
<rect x="239.18" y="317.58" width="8.6" height="9.4" rx="1.6"/>
<rect x="254.12" y="318.59" width="8.6" height="9.4" rx="1.6"/>
<rect x="269.55" y="319.52" width="8.6" height="9.4" rx="1.6"/>
<rect x="284.98" y="320.36" width="8.6" height="9.4" rx="1.6"/>
<rect x="300.66" y="321.11" width="8.6" height="9.4" rx="1.6"/>
<rect x="316.1" y="321.74" width="8.6" height="9.4" rx="1.6"/>
<rect x="331.78" y="322.28" width="8.6" height="9.4" rx="1.6"/>
<rect x="347.96" y="322.72" width="8.6" height="9.4" rx="1.6"/>
<rect x="364.13" y="323.06" width="8.6" height="9.4" rx="1.6"/>
<rect x="380.31" y="323.28" width="8.6" height="9.4" rx="1.6"/>
<rect x="396.49" y="323.39" width="8.6" height="9.4" rx="1.6"/>
<rect x="412.67" y="323.4" width="8.6" height="9.4" rx="1.6"/>
<rect x="428.85" y="323.28" width="8.6" height="9.4" rx="1.6"/>
<rect x="444.53" y="323.07" width="8.6" height="9.4" rx="1.6"/>
<rect x="460.46" y="322.75" width="8.6" height="9.4" rx="1.6"/>
<rect x="476.64" y="322.31" width="8.6" height="9.4" rx="1.6"/>
<rect x="492.32" y="321.78" width="8.6" height="9.4" rx="1.6"/>
<rect x="507.26" y="321.17" width="8.6" height="9.4" rx="1.6"/>
<rect x="522.69" y="320.45" width="8.6" height="9.4" rx="1.6"/>
<rect x="537.87" y="319.64" width="8.6" height="9.4" rx="1.6"/>
<rect x="552.06" y="318.79" width="8.6" height="9.4" rx="1.6"/>
<rect x="566" y="317.87" width="8.6" height="9.4" rx="1.6"/>
<rect x="224.9" y="332.73" width="8.6" height="9.4" rx="1.6"/>
<rect x="239.3" y="333.84" width="8.6" height="9.4" rx="1.6"/>
<rect x="254.2" y="334.9" width="8.6" height="9.4" rx="1.6"/>
<rect x="269.6" y="335.88" width="8.6" height="9.4" rx="1.6"/>
<rect x="285" y="336.75" width="8.6" height="9.4" rx="1.6"/>
<rect x="300.64" y="337.53" width="8.6" height="9.4" rx="1.6"/>
<rect x="316.04" y="338.19" width="8.6" height="9.4" rx="1.6"/>
<rect x="331.69" y="338.76" width="8.6" height="9.4" rx="1.6"/>
<rect x="347.83" y="339.22" width="8.6" height="9.4" rx="1.6"/>
<rect x="363.98" y="339.57" width="8.6" height="9.4" rx="1.6"/>
<rect x="380.12" y="339.8" width="8.6" height="9.4" rx="1.6"/>
<rect x="396.26" y="339.91" width="8.6" height="9.4" rx="1.6"/>
<rect x="412.41" y="339.91" width="8.6" height="9.4" rx="1.6"/>
<rect x="428.55" y="339.79" width="8.6" height="9.4" rx="1.6"/>
<rect x="444.2" y="339.57" width="8.6" height="9.4" rx="1.6"/>
<rect x="460.09" y="339.22" width="8.6" height="9.4" rx="1.6"/>
<rect x="476.24" y="338.76" width="8.6" height="9.4" rx="1.6"/>
<rect x="491.88" y="338.2" width="8.6" height="9.4" rx="1.6"/>
<rect x="506.78" y="337.56" width="8.6" height="9.4" rx="1.6"/>
<rect x="522.18" y="336.8" width="8.6" height="9.4" rx="1.6"/>
<rect x="537.33" y="335.94" width="8.6" height="9.4" rx="1.6"/>
<rect x="551.49" y="335.05" width="8.6" height="9.4" rx="1.6"/>
<rect x="565.4" y="334.09" width="8.6" height="9.4" rx="1.6"/>
<rect x="225.04" y="348.95" width="8.6" height="9.4" rx="1.6"/>
<rect x="239.42" y="350.11" width="8.6" height="9.4" rx="1.6"/>
<rect x="254.29" y="351.21" width="8.6" height="9.4" rx="1.6"/>
<rect x="269.65" y="352.23" width="8.6" height="9.4" rx="1.6"/>
<rect x="285.01" y="353.14" width="8.6" height="9.4" rx="1.6"/>
<rect x="300.63" y="353.96" width="8.6" height="9.4" rx="1.6"/>
<rect x="315.99" y="354.65" width="8.6" height="9.4" rx="1.6"/>
<rect x="331.6" y="355.23" width="8.6" height="9.4" rx="1.6"/>
<rect x="347.71" y="355.72" width="8.6" height="9.4" rx="1.6"/>
<rect x="363.82" y="356.08" width="8.6" height="9.4" rx="1.6"/>
<rect x="379.93" y="356.32" width="8.6" height="9.4" rx="1.6"/>
<rect x="396.03" y="356.43" width="8.6" height="9.4" rx="1.6"/>
<rect x="412.14" y="356.43" width="8.6" height="9.4" rx="1.6"/>
<rect x="428.25" y="356.3" width="8.6" height="9.4" rx="1.6"/>
<rect x="443.86" y="356.06" width="8.6" height="9.4" rx="1.6"/>
<rect x="459.72" y="355.7" width="8.6" height="9.4" rx="1.6"/>
<rect x="475.83" y="355.21" width="8.6" height="9.4" rx="1.6"/>
<rect x="491.44" y="354.62" width="8.6" height="9.4" rx="1.6"/>
<rect x="506.31" y="353.95" width="8.6" height="9.4" rx="1.6"/>
<rect x="521.68" y="353.14" width="8.6" height="9.4" rx="1.6"/>
<rect x="536.79" y="352.25" width="8.6" height="9.4" rx="1.6"/>
<rect x="550.92" y="351.31" width="8.6" height="9.4" rx="1.6"/>
<rect x="564.8" y="350.3" width="8.6" height="9.4" rx="1.6"/>
<rect x="225.19" y="365.16" width="8.6" height="9.4" rx="1.6"/>
<rect x="239.53" y="366.37" width="8.6" height="9.4" rx="1.6"/>
<rect x="254.37" y="367.52" width="8.6" height="9.4" rx="1.6"/>
<rect x="269.7" y="368.58" width="8.6" height="9.4" rx="1.6"/>
<rect x="285.03" y="369.54" width="8.6" height="9.4" rx="1.6"/>
<rect x="300.61" y="370.38" width="8.6" height="9.4" rx="1.6"/>
<rect x="315.94" y="371.1" width="8.6" height="9.4" rx="1.6"/>
<rect x="331.52" y="371.71" width="8.6" height="9.4" rx="1.6"/>
<rect x="347.59" y="372.21" width="8.6" height="9.4" rx="1.6"/>
<rect x="363.66" y="372.59" width="8.6" height="9.4" rx="1.6"/>
<rect x="379.73" y="372.84" width="8.6" height="9.4" rx="1.6"/>
<rect x="395.81" y="372.95" width="8.6" height="9.4" rx="1.6"/>
<rect x="411.88" y="372.95" width="8.6" height="9.4" rx="1.6"/>
<rect x="427.95" y="372.81" width="8.6" height="9.4" rx="1.6"/>
<rect x="443.53" y="372.55" width="8.6" height="9.4" rx="1.6"/>
<rect x="459.35" y="372.17" width="8.6" height="9.4" rx="1.6"/>
<rect x="475.43" y="371.66" width="8.6" height="9.4" rx="1.6"/>
<rect x="491" y="371.04" width="8.6" height="9.4" rx="1.6"/>
<rect x="505.84" y="370.33" width="8.6" height="9.4" rx="1.6"/>
<rect x="521.17" y="369.49" width="8.6" height="9.4" rx="1.6"/>
<rect x="536.25" y="368.55" width="8.6" height="9.4" rx="1.6"/>
<rect x="550.35" y="367.57" width="8.6" height="9.4" rx="1.6"/>
<rect x="564.19" y="366.51" width="8.6" height="9.4" rx="1.6"/>
<rect x="225.34" y="381.37" width="8.6" height="9.4" rx="1.6"/>
<rect x="239.65" y="382.63" width="8.6" height="9.4" rx="1.6"/>
<rect x="254.45" y="383.83" width="8.6" height="9.4" rx="1.6"/>
<rect x="269.75" y="384.94" width="8.6" height="9.4" rx="1.6"/>
<rect x="285.05" y="385.93" width="8.6" height="9.4" rx="1.6"/>
<rect x="300.59" y="386.81" width="8.6" height="9.4" rx="1.6"/>
<rect x="315.89" y="387.55" width="8.6" height="9.4" rx="1.6"/>
<rect x="331.43" y="388.19" width="8.6" height="9.4" rx="1.6"/>
<rect x="347.47" y="388.71" width="8.6" height="9.4" rx="1.6"/>
<rect x="363.5" y="389.1" width="8.6" height="9.4" rx="1.6"/>
<rect x="379.54" y="389.35" width="8.6" height="9.4" rx="1.6"/>
<rect x="395.58" y="389.47" width="8.6" height="9.4" rx="1.6"/>
<rect x="411.61" y="389.46" width="8.6" height="9.4" rx="1.6"/>
<rect x="427.65" y="389.32" width="8.6" height="9.4" rx="1.6"/>
<rect x="443.19" y="389.05" width="8.6" height="9.4" rx="1.6"/>
<rect x="458.98" y="388.65" width="8.6" height="9.4" rx="1.6"/>
<rect x="475.02" y="388.11" width="8.6" height="9.4" rx="1.6"/>
<rect x="490.56" y="387.46" width="8.6" height="9.4" rx="1.6"/>
<rect x="505.37" y="386.72" width="8.6" height="9.4" rx="1.6"/>
<rect x="520.66" y="385.84" width="8.6" height="9.4" rx="1.6"/>
<rect x="535.71" y="384.86" width="8.6" height="9.4" rx="1.6"/>
<rect x="549.78" y="383.83" width="8.6" height="9.4" rx="1.6"/>
<rect x="563.59" y="382.72" width="8.6" height="9.4" rx="1.6"/>
<rect x="225.49" y="397.59" width="8.6" height="9.4" rx="1.6"/>
<rect x="239.77" y="398.9" width="8.6" height="9.4" rx="1.6"/>
<rect x="254.54" y="400.14" width="8.6" height="9.4" rx="1.6"/>
<rect x="269.8" y="401.29" width="8.6" height="9.4" rx="1.6"/>
<rect x="285.06" y="402.32" width="8.6" height="9.4" rx="1.6"/>
<rect x="300.57" y="403.24" width="8.6" height="9.4" rx="1.6"/>
<rect x="315.83" y="404.01" width="8.6" height="9.4" rx="1.6"/>
<rect x="331.34" y="404.67" width="8.6" height="9.4" rx="1.6"/>
<rect x="347.34" y="405.21" width="8.6" height="9.4" rx="1.6"/>
<rect x="363.35" y="405.61" width="8.6" height="9.4" rx="1.6"/>
<rect x="379.35" y="405.87" width="8.6" height="9.4" rx="1.6"/>
<rect x="395.35" y="405.99" width="8.6" height="9.4" rx="1.6"/>
<rect x="411.35" y="405.98" width="8.6" height="9.4" rx="1.6"/>
<rect x="427.35" y="405.83" width="8.6" height="9.4" rx="1.6"/>
<rect x="442.86" y="405.54" width="8.6" height="9.4" rx="1.6"/>
<rect x="458.61" y="405.12" width="8.6" height="9.4" rx="1.6"/>
<rect x="474.62" y="404.56" width="8.6" height="9.4" rx="1.6"/>
<rect x="490.12" y="403.88" width="8.6" height="9.4" rx="1.6"/>
<rect x="504.9" y="403.11" width="8.6" height="9.4" rx="1.6"/>
<rect x="520.16" y="402.19" width="8.6" height="9.4" rx="1.6"/>
<rect x="535.17" y="401.16" width="8.6" height="9.4" rx="1.6"/>
<rect x="549.21" y="400.09" width="8.6" height="9.4" rx="1.6"/>
<rect x="562.99" y="398.94" width="8.6" height="9.4" rx="1.6"/>
<rect x="225.64" y="413.8" width="8.6" height="9.4" rx="1.6"/>
<rect x="239.88" y="415.16" width="8.6" height="9.4" rx="1.6"/>
<rect x="254.62" y="416.45" width="8.6" height="9.4" rx="1.6"/>
<rect x="269.85" y="417.64" width="8.6" height="9.4" rx="1.6"/>
<rect x="285.08" y="418.71" width="8.6" height="9.4" rx="1.6"/>
<rect x="300.55" y="419.66" width="8.6" height="9.4" rx="1.6"/>
<rect x="315.78" y="420.46" width="8.6" height="9.4" rx="1.6"/>
<rect x="331.26" y="421.14" width="8.6" height="9.4" rx="1.6"/>
<rect x="347.22" y="421.7" width="8.6" height="9.4" rx="1.6"/>
<rect x="363.19" y="422.12" width="8.6" height="9.4" rx="1.6"/>
<rect x="379.15" y="422.39" width="8.6" height="9.4" rx="1.6"/>
<rect x="395.12" y="422.51" width="8.6" height="9.4" rx="1.6"/>
<rect x="411.09" y="422.5" width="8.6" height="9.4" rx="1.6"/>
<rect x="427.05" y="422.33" width="8.6" height="9.4" rx="1.6"/>
<rect x="442.53" y="422.04" width="8.6" height="9.4" rx="1.6"/>
<rect x="458.25" y="421.6" width="8.6" height="9.4" rx="1.6"/>
<rect x="474.21" y="421.01" width="8.6" height="9.4" rx="1.6"/>
<rect x="489.69" y="420.3" width="8.6" height="9.4" rx="1.6"/>
<rect x="504.42" y="419.5" width="8.6" height="9.4" rx="1.6"/>
<rect x="519.65" y="418.54" width="8.6" height="9.4" rx="1.6"/>
<rect x="534.64" y="417.47" width="8.6" height="9.4" rx="1.6"/>
<rect x="548.64" y="416.35" width="8.6" height="9.4" rx="1.6"/>
<rect x="562.39" y="415.15" width="8.6" height="9.4" rx="1.6"/>
<rect x="240" y="431.42" width="8.6" height="9.4" rx="1.6"/>
<rect x="254.7" y="432.76" width="8.6" height="9.4" rx="1.6"/>
<rect x="269.9" y="434" width="8.6" height="9.4" rx="1.6"/>
<rect x="285.09" y="435.1" width="8.6" height="9.4" rx="1.6"/>
<rect x="300.53" y="436.09" width="8.6" height="9.4" rx="1.6"/>
<rect x="315.73" y="436.92" width="8.6" height="9.4" rx="1.6"/>
<rect x="331.17" y="437.62" width="8.6" height="9.4" rx="1.6"/>
<rect x="347.1" y="438.2" width="8.6" height="9.4" rx="1.6"/>
<rect x="363.03" y="438.63" width="8.6" height="9.4" rx="1.6"/>
<rect x="378.96" y="438.91" width="8.6" height="9.4" rx="1.6"/>
<rect x="394.89" y="439.03" width="8.6" height="9.4" rx="1.6"/>
<rect x="410.82" y="439.01" width="8.6" height="9.4" rx="1.6"/>
<rect x="426.75" y="438.84" width="8.6" height="9.4" rx="1.6"/>
<rect x="442.19" y="438.53" width="8.6" height="9.4" rx="1.6"/>
<rect x="457.88" y="438.07" width="8.6" height="9.4" rx="1.6"/>
<rect x="473.81" y="437.46" width="8.6" height="9.4" rx="1.6"/>
<rect x="489.25" y="436.72" width="8.6" height="9.4" rx="1.6"/>
<rect x="503.95" y="435.89" width="8.6" height="9.4" rx="1.6"/>
<rect x="519.15" y="434.89" width="8.6" height="9.4" rx="1.6"/>
<rect x="534.1" y="433.77" width="8.6" height="9.4" rx="1.6"/>
<rect x="548.07" y="432.61" width="8.6" height="9.4" rx="1.6"/>
<rect x="240.12" y="447.69" width="8.6" height="9.4" rx="1.6"/>
<rect x="254.79" y="449.07" width="8.6" height="9.4" rx="1.6"/>
<rect x="269.95" y="450.35" width="8.6" height="9.4" rx="1.6"/>
<rect x="285.11" y="451.49" width="8.6" height="9.4" rx="1.6"/>
<rect x="300.52" y="452.51" width="8.6" height="9.4" rx="1.6"/>
<rect x="315.68" y="453.37" width="8.6" height="9.4" rx="1.6"/>
<rect x="473.4" y="453.91" width="8.6" height="9.4" rx="1.6"/>
<rect x="488.81" y="453.14" width="8.6" height="9.4" rx="1.6"/>
<rect x="503.48" y="452.27" width="8.6" height="9.4" rx="1.6"/>
<rect x="518.64" y="451.24" width="8.6" height="9.4" rx="1.6"/>
<rect x="533.56" y="450.08" width="8.6" height="9.4" rx="1.6"/>
<rect x="547.5" y="448.87" width="8.6" height="9.4" rx="1.6"/>
</g>
<g fill="#f4f232" filter="url(#ledBlur2)">
<rect x="239.45" y="285.55" width="7.6" height="8.4" rx="1"/>
<rect x="254.45" y="286.47" width="7.6" height="8.4" rx="1"/>
<rect x="269.95" y="287.32" width="7.6" height="8.4" rx="1"/>
<rect x="285.45" y="288.08" width="7.6" height="8.4" rx="1"/>
<rect x="301.2" y="288.76" width="7.6" height="8.4" rx="1"/>
<rect x="316.7" y="289.33" width="7.6" height="8.4" rx="1"/>
<rect x="332.45" y="289.82" width="7.6" height="8.4" rx="1"/>
<rect x="348.7" y="290.23" width="7.6" height="8.4" rx="1"/>
<rect x="364.95" y="290.54" width="7.6" height="8.4" rx="1"/>
<rect x="381.2" y="290.75" width="7.6" height="8.4" rx="1"/>
<rect x="397.45" y="290.85" width="7.6" height="8.4" rx="1"/>
<rect x="413.7" y="290.86" width="7.6" height="8.4" rx="1"/>
<rect x="429.95" y="290.77" width="7.6" height="8.4" rx="1"/>
<rect x="445.7" y="290.58" width="7.6" height="8.4" rx="1"/>
<rect x="461.7" y="290.3" width="7.6" height="8.4" rx="1"/>
<rect x="477.95" y="289.91" width="7.6" height="8.4" rx="1"/>
<rect x="493.7" y="289.43" width="7.6" height="8.4" rx="1"/>
<rect x="508.7" y="288.9" width="7.6" height="8.4" rx="1"/>
<rect x="524.2" y="288.25" width="7.6" height="8.4" rx="1"/>
<rect x="539.45" y="287.52" width="7.6" height="8.4" rx="1"/>
<rect x="553.7" y="286.77" width="7.6" height="8.4" rx="1"/>
<rect x="239.57" y="301.82" width="7.6" height="8.4" rx="1"/>
<rect x="254.53" y="302.78" width="7.6" height="8.4" rx="1"/>
<rect x="270" y="303.67" width="7.6" height="8.4" rx="1"/>
<rect x="285.47" y="304.47" width="7.6" height="8.4" rx="1"/>
<rect x="301.18" y="305.18" width="7.6" height="8.4" rx="1"/>
<rect x="316.65" y="305.79" width="7.6" height="8.4" rx="1"/>
<rect x="332.36" y="306.3" width="7.6" height="8.4" rx="1"/>
<rect x="348.58" y="306.73" width="7.6" height="8.4" rx="1"/>
<rect x="364.79" y="307.05" width="7.6" height="8.4" rx="1"/>
<rect x="381.01" y="307.26" width="7.6" height="8.4" rx="1"/>
<rect x="397.22" y="307.37" width="7.6" height="8.4" rx="1"/>
<rect x="413.44" y="307.38" width="7.6" height="8.4" rx="1"/>
<rect x="429.65" y="307.28" width="7.6" height="8.4" rx="1"/>
<rect x="445.37" y="307.08" width="7.6" height="8.4" rx="1"/>
<rect x="461.33" y="306.77" width="7.6" height="8.4" rx="1"/>
<rect x="477.55" y="306.36" width="7.6" height="8.4" rx="1"/>
<rect x="493.26" y="305.85" width="7.6" height="8.4" rx="1"/>
<rect x="508.23" y="305.28" width="7.6" height="8.4" rx="1"/>
<rect x="523.69" y="304.6" width="7.6" height="8.4" rx="1"/>
<rect x="538.91" y="303.83" width="7.6" height="8.4" rx="1"/>
<rect x="553.13" y="303.03" width="7.6" height="8.4" rx="1"/>
<rect x="225.25" y="317.02" width="7.6" height="8.4" rx="1"/>
<rect x="239.68" y="318.08" width="7.6" height="8.4" rx="1"/>
<rect x="254.62" y="319.09" width="7.6" height="8.4" rx="1"/>
<rect x="270.05" y="320.02" width="7.6" height="8.4" rx="1"/>
<rect x="285.48" y="320.86" width="7.6" height="8.4" rx="1"/>
<rect x="301.16" y="321.61" width="7.6" height="8.4" rx="1"/>
<rect x="316.6" y="322.24" width="7.6" height="8.4" rx="1"/>
<rect x="332.28" y="322.78" width="7.6" height="8.4" rx="1"/>
<rect x="348.46" y="323.22" width="7.6" height="8.4" rx="1"/>
<rect x="364.63" y="323.56" width="7.6" height="8.4" rx="1"/>
<rect x="380.81" y="323.78" width="7.6" height="8.4" rx="1"/>
<rect x="396.99" y="323.89" width="7.6" height="8.4" rx="1"/>
<rect x="413.17" y="323.9" width="7.6" height="8.4" rx="1"/>
<rect x="429.35" y="323.78" width="7.6" height="8.4" rx="1"/>
<rect x="445.03" y="323.57" width="7.6" height="8.4" rx="1"/>
<rect x="460.96" y="323.25" width="7.6" height="8.4" rx="1"/>
<rect x="477.14" y="322.81" width="7.6" height="8.4" rx="1"/>
<rect x="492.82" y="322.28" width="7.6" height="8.4" rx="1"/>
<rect x="507.76" y="321.67" width="7.6" height="8.4" rx="1"/>
<rect x="523.19" y="320.95" width="7.6" height="8.4" rx="1"/>
<rect x="538.37" y="320.14" width="7.6" height="8.4" rx="1"/>
<rect x="552.56" y="319.29" width="7.6" height="8.4" rx="1"/>
<rect x="566.5" y="318.37" width="7.6" height="8.4" rx="1"/>
<rect x="225.4" y="333.23" width="7.6" height="8.4" rx="1"/>
<rect x="239.8" y="334.34" width="7.6" height="8.4" rx="1"/>
<rect x="254.7" y="335.4" width="7.6" height="8.4" rx="1"/>
<rect x="270.1" y="336.38" width="7.6" height="8.4" rx="1"/>
<rect x="285.5" y="337.25" width="7.6" height="8.4" rx="1"/>
<rect x="301.14" y="338.03" width="7.6" height="8.4" rx="1"/>
<rect x="316.54" y="338.69" width="7.6" height="8.4" rx="1"/>
<rect x="332.19" y="339.26" width="7.6" height="8.4" rx="1"/>
<rect x="348.33" y="339.72" width="7.6" height="8.4" rx="1"/>
<rect x="364.48" y="340.07" width="7.6" height="8.4" rx="1"/>
<rect x="380.62" y="340.3" width="7.6" height="8.4" rx="1"/>
<rect x="396.76" y="340.41" width="7.6" height="8.4" rx="1"/>
<rect x="412.91" y="340.41" width="7.6" height="8.4" rx="1"/>
<rect x="429.05" y="340.29" width="7.6" height="8.4" rx="1"/>
<rect x="444.7" y="340.07" width="7.6" height="8.4" rx="1"/>
<rect x="460.59" y="339.72" width="7.6" height="8.4" rx="1"/>
<rect x="476.74" y="339.26" width="7.6" height="8.4" rx="1"/>
<rect x="492.38" y="338.7" width="7.6" height="8.4" rx="1"/>
<rect x="507.28" y="338.06" width="7.6" height="8.4" rx="1"/>
<rect x="522.68" y="337.3" width="7.6" height="8.4" rx="1"/>
<rect x="537.83" y="336.44" width="7.6" height="8.4" rx="1"/>
<rect x="551.99" y="335.55" width="7.6" height="8.4" rx="1"/>
<rect x="565.9" y="334.59" width="7.6" height="8.4" rx="1"/>
<rect x="225.54" y="349.45" width="7.6" height="8.4" rx="1"/>
<rect x="239.92" y="350.61" width="7.6" height="8.4" rx="1"/>
<rect x="254.79" y="351.71" width="7.6" height="8.4" rx="1"/>
<rect x="270.15" y="352.73" width="7.6" height="8.4" rx="1"/>
<rect x="285.51" y="353.64" width="7.6" height="8.4" rx="1"/>
<rect x="301.13" y="354.46" width="7.6" height="8.4" rx="1"/>
<rect x="316.49" y="355.15" width="7.6" height="8.4" rx="1"/>
<rect x="332.1" y="355.73" width="7.6" height="8.4" rx="1"/>
<rect x="348.21" y="356.22" width="7.6" height="8.4" rx="1"/>
<rect x="364.32" y="356.58" width="7.6" height="8.4" rx="1"/>
<rect x="380.43" y="356.82" width="7.6" height="8.4" rx="1"/>
<rect x="396.53" y="356.93" width="7.6" height="8.4" rx="1"/>
<rect x="412.64" y="356.93" width="7.6" height="8.4" rx="1"/>
<rect x="428.75" y="356.8" width="7.6" height="8.4" rx="1"/>
<rect x="444.36" y="356.56" width="7.6" height="8.4" rx="1"/>
<rect x="460.22" y="356.2" width="7.6" height="8.4" rx="1"/>
<rect x="476.33" y="355.71" width="7.6" height="8.4" rx="1"/>
<rect x="491.94" y="355.12" width="7.6" height="8.4" rx="1"/>
<rect x="506.81" y="354.45" width="7.6" height="8.4" rx="1"/>
<rect x="522.18" y="353.64" width="7.6" height="8.4" rx="1"/>
<rect x="537.29" y="352.75" width="7.6" height="8.4" rx="1"/>
<rect x="551.42" y="351.81" width="7.6" height="8.4" rx="1"/>
<rect x="565.3" y="350.8" width="7.6" height="8.4" rx="1"/>
<rect x="225.69" y="365.66" width="7.6" height="8.4" rx="1"/>
<rect x="240.03" y="366.87" width="7.6" height="8.4" rx="1"/>
<rect x="254.87" y="368.02" width="7.6" height="8.4" rx="1"/>
<rect x="270.2" y="369.08" width="7.6" height="8.4" rx="1"/>
<rect x="285.53" y="370.04" width="7.6" height="8.4" rx="1"/>
<rect x="301.11" y="370.88" width="7.6" height="8.4" rx="1"/>
<rect x="316.44" y="371.6" width="7.6" height="8.4" rx="1"/>
<rect x="332.02" y="372.21" width="7.6" height="8.4" rx="1"/>
<rect x="348.09" y="372.71" width="7.6" height="8.4" rx="1"/>
<rect x="364.16" y="373.09" width="7.6" height="8.4" rx="1"/>
<rect x="380.23" y="373.34" width="7.6" height="8.4" rx="1"/>
<rect x="396.31" y="373.45" width="7.6" height="8.4" rx="1"/>
<rect x="412.38" y="373.45" width="7.6" height="8.4" rx="1"/>
<rect x="428.45" y="373.31" width="7.6" height="8.4" rx="1"/>
<rect x="444.03" y="373.05" width="7.6" height="8.4" rx="1"/>
<rect x="459.85" y="372.67" width="7.6" height="8.4" rx="1"/>
<rect x="475.93" y="372.16" width="7.6" height="8.4" rx="1"/>
<rect x="491.5" y="371.54" width="7.6" height="8.4" rx="1"/>
<rect x="506.34" y="370.83" width="7.6" height="8.4" rx="1"/>
<rect x="521.67" y="369.99" width="7.6" height="8.4" rx="1"/>
<rect x="536.75" y="369.05" width="7.6" height="8.4" rx="1"/>
<rect x="550.85" y="368.07" width="7.6" height="8.4" rx="1"/>
<rect x="564.69" y="367.01" width="7.6" height="8.4" rx="1"/>
<rect x="225.84" y="381.87" width="7.6" height="8.4" rx="1"/>
<rect x="240.15" y="383.13" width="7.6" height="8.4" rx="1"/>
<rect x="254.95" y="384.33" width="7.6" height="8.4" rx="1"/>
<rect x="270.25" y="385.44" width="7.6" height="8.4" rx="1"/>
<rect x="285.55" y="386.43" width="7.6" height="8.4" rx="1"/>
<rect x="301.09" y="387.31" width="7.6" height="8.4" rx="1"/>
<rect x="316.39" y="388.05" width="7.6" height="8.4" rx="1"/>
<rect x="331.93" y="388.69" width="7.6" height="8.4" rx="1"/>
<rect x="347.97" y="389.21" width="7.6" height="8.4" rx="1"/>
<rect x="364" y="389.6" width="7.6" height="8.4" rx="1"/>
<rect x="380.04" y="389.85" width="7.6" height="8.4" rx="1"/>
<rect x="396.08" y="389.97" width="7.6" height="8.4" rx="1"/>
<rect x="412.11" y="389.96" width="7.6" height="8.4" rx="1"/>
<rect x="428.15" y="389.82" width="7.6" height="8.4" rx="1"/>
<rect x="443.69" y="389.55" width="7.6" height="8.4" rx="1"/>
<rect x="459.48" y="389.15" width="7.6" height="8.4" rx="1"/>
<rect x="475.52" y="388.61" width="7.6" height="8.4" rx="1"/>
<rect x="491.06" y="387.96" width="7.6" height="8.4" rx="1"/>
<rect x="505.87" y="387.22" width="7.6" height="8.4" rx="1"/>
<rect x="521.16" y="386.34" width="7.6" height="8.4" rx="1"/>
<rect x="536.21" y="385.36" width="7.6" height="8.4" rx="1"/>
<rect x="550.28" y="384.33" width="7.6" height="8.4" rx="1"/>
<rect x="564.09" y="383.22" width="7.6" height="8.4" rx="1"/>
<rect x="225.99" y="398.09" width="7.6" height="8.4" rx="1"/>
<rect x="240.27" y="399.4" width="7.6" height="8.4" rx="1"/>
<rect x="255.04" y="400.64" width="7.6" height="8.4" rx="1"/>
<rect x="270.3" y="401.79" width="7.6" height="8.4" rx="1"/>
<rect x="285.56" y="402.82" width="7.6" height="8.4" rx="1"/>
<rect x="301.07" y="403.74" width="7.6" height="8.4" rx="1"/>
<rect x="316.33" y="404.51" width="7.6" height="8.4" rx="1"/>
<rect x="331.84" y="405.17" width="7.6" height="8.4" rx="1"/>
<rect x="347.84" y="405.71" width="7.6" height="8.4" rx="1"/>
<rect x="363.85" y="406.11" width="7.6" height="8.4" rx="1"/>
<rect x="379.85" y="406.37" width="7.6" height="8.4" rx="1"/>
<rect x="395.85" y="406.49" width="7.6" height="8.4" rx="1"/>
<rect x="411.85" y="406.48" width="7.6" height="8.4" rx="1"/>
<rect x="427.85" y="406.33" width="7.6" height="8.4" rx="1"/>
<rect x="443.36" y="406.04" width="7.6" height="8.4" rx="1"/>
<rect x="459.11" y="405.62" width="7.6" height="8.4" rx="1"/>
<rect x="475.12" y="405.06" width="7.6" height="8.4" rx="1"/>
<rect x="490.62" y="404.38" width="7.6" height="8.4" rx="1"/>
<rect x="505.4" y="403.61" width="7.6" height="8.4" rx="1"/>
<rect x="520.66" y="402.69" width="7.6" height="8.4" rx="1"/>
<rect x="535.67" y="401.66" width="7.6" height="8.4" rx="1"/>
<rect x="549.71" y="400.59" width="7.6" height="8.4" rx="1"/>
<rect x="563.49" y="399.44" width="7.6" height="8.4" rx="1"/>
<rect x="226.14" y="414.3" width="7.6" height="8.4" rx="1"/>
<rect x="240.38" y="415.66" width="7.6" height="8.4" rx="1"/>
<rect x="255.12" y="416.95" width="7.6" height="8.4" rx="1"/>
<rect x="270.35" y="418.14" width="7.6" height="8.4" rx="1"/>
<rect x="285.58" y="419.21" width="7.6" height="8.4" rx="1"/>
<rect x="301.05" y="420.16" width="7.6" height="8.4" rx="1"/>
<rect x="316.28" y="420.96" width="7.6" height="8.4" rx="1"/>
<rect x="331.76" y="421.64" width="7.6" height="8.4" rx="1"/>
<rect x="347.72" y="422.2" width="7.6" height="8.4" rx="1"/>
<rect x="363.69" y="422.62" width="7.6" height="8.4" rx="1"/>
<rect x="379.65" y="422.89" width="7.6" height="8.4" rx="1"/>
<rect x="395.62" y="423.01" width="7.6" height="8.4" rx="1"/>
<rect x="411.59" y="423" width="7.6" height="8.4" rx="1"/>
<rect x="427.55" y="422.83" width="7.6" height="8.4" rx="1"/>
<rect x="443.03" y="422.54" width="7.6" height="8.4" rx="1"/>
<rect x="458.75" y="422.1" width="7.6" height="8.4" rx="1"/>
<rect x="474.71" y="421.51" width="7.6" height="8.4" rx="1"/>
<rect x="490.19" y="420.8" width="7.6" height="8.4" rx="1"/>
<rect x="504.92" y="420" width="7.6" height="8.4" rx="1"/>
<rect x="520.15" y="419.04" width="7.6" height="8.4" rx="1"/>
<rect x="535.14" y="417.97" width="7.6" height="8.4" rx="1"/>
<rect x="549.14" y="416.85" width="7.6" height="8.4" rx="1"/>
<rect x="562.89" y="415.65" width="7.6" height="8.4" rx="1"/>
<rect x="240.5" y="431.92" width="7.6" height="8.4" rx="1"/>
<rect x="255.2" y="433.26" width="7.6" height="8.4" rx="1"/>
<rect x="270.4" y="434.5" width="7.6" height="8.4" rx="1"/>
<rect x="285.59" y="435.6" width="7.6" height="8.4" rx="1"/>
<rect x="301.03" y="436.59" width="7.6" height="8.4" rx="1"/>
<rect x="316.23" y="437.42" width="7.6" height="8.4" rx="1"/>
<rect x="331.67" y="438.12" width="7.6" height="8.4" rx="1"/>
<rect x="347.6" y="438.7" width="7.6" height="8.4" rx="1"/>
<rect x="363.53" y="439.13" width="7.6" height="8.4" rx="1"/>
<rect x="379.46" y="439.41" width="7.6" height="8.4" rx="1"/>
<rect x="395.39" y="439.53" width="7.6" height="8.4" rx="1"/>
<rect x="411.32" y="439.51" width="7.6" height="8.4" rx="1"/>
<rect x="427.25" y="439.34" width="7.6" height="8.4" rx="1"/>
<rect x="442.69" y="439.03" width="7.6" height="8.4" rx="1"/>
<rect x="458.38" y="438.57" width="7.6" height="8.4" rx="1"/>
<rect x="474.31" y="437.96" width="7.6" height="8.4" rx="1"/>
<rect x="489.75" y="437.22" width="7.6" height="8.4" rx="1"/>
<rect x="504.45" y="436.39" width="7.6" height="8.4" rx="1"/>
<rect x="519.65" y="435.39" width="7.6" height="8.4" rx="1"/>
<rect x="534.6" y="434.27" width="7.6" height="8.4" rx="1"/>
<rect x="548.57" y="433.11" width="7.6" height="8.4" rx="1"/>
<rect x="240.62" y="448.19" width="7.6" height="8.4" rx="1"/>
<rect x="255.29" y="449.57" width="7.6" height="8.4" rx="1"/>
<rect x="270.45" y="450.85" width="7.6" height="8.4" rx="1"/>
<rect x="285.61" y="451.99" width="7.6" height="8.4" rx="1"/>
<rect x="301.02" y="453.01" width="7.6" height="8.4" rx="1"/>
<rect x="316.18" y="453.87" width="7.6" height="8.4" rx="1"/>
<rect x="473.9" y="454.41" width="7.6" height="8.4" rx="1"/>
<rect x="489.31" y="453.64" width="7.6" height="8.4" rx="1"/>
<rect x="503.98" y="452.77" width="7.6" height="8.4" rx="1"/>
<rect x="519.14" y="451.74" width="7.6" height="8.4" rx="1"/>
<rect x="534.06" y="450.58" width="7.6" height="8.4" rx="1"/>
<rect x="548" y="449.37" width="7.6" height="8.4" rx="1"/>
</g>
<g fill="#f6f690" opacity="0.35" filter="url(#ledBlur)">
<rect x="240.95" y="287.05" width="4.6" height="5.4" rx="1.2"/>
<rect x="255.95" y="287.97" width="4.6" height="5.4" rx="1.2"/>
<rect x="271.45" y="288.82" width="4.6" height="5.4" rx="1.2"/>
<rect x="286.95" y="289.58" width="4.6" height="5.4" rx="1.2"/>
<rect x="302.7" y="290.26" width="4.6" height="5.4" rx="1.2"/>
<rect x="318.2" y="290.83" width="4.6" height="5.4" rx="1.2"/>
<rect x="333.95" y="291.32" width="4.6" height="5.4" rx="1.2"/>
<rect x="350.2" y="291.73" width="4.6" height="5.4" rx="1.2"/>
<rect x="366.45" y="292.04" width="4.6" height="5.4" rx="1.2"/>
<rect x="382.7" y="292.25" width="4.6" height="5.4" rx="1.2"/>
<rect x="398.95" y="292.35" width="4.6" height="5.4" rx="1.2"/>
<rect x="415.2" y="292.36" width="4.6" height="5.4" rx="1.2"/>
<rect x="431.45" y="292.27" width="4.6" height="5.4" rx="1.2"/>
<rect x="447.2" y="292.08" width="4.6" height="5.4" rx="1.2"/>
<rect x="463.2" y="291.8" width="4.6" height="5.4" rx="1.2"/>
<rect x="479.45" y="291.41" width="4.6" height="5.4" rx="1.2"/>
<rect x="495.2" y="290.93" width="4.6" height="5.4" rx="1.2"/>
<rect x="510.2" y="290.4" width="4.6" height="5.4" rx="1.2"/>
<rect x="525.7" y="289.75" width="4.6" height="5.4" rx="1.2"/>
<rect x="540.95" y="289.02" width="4.6" height="5.4" rx="1.2"/>
<rect x="555.2" y="288.27" width="4.6" height="5.4" rx="1.2"/>
<rect x="241.07" y="303.32" width="4.6" height="5.4" rx="1.2"/>
<rect x="256.03" y="304.28" width="4.6" height="5.4" rx="1.2"/>
<rect x="271.5" y="305.17" width="4.6" height="5.4" rx="1.2"/>
<rect x="286.97" y="305.97" width="4.6" height="5.4" rx="1.2"/>
<rect x="302.68" y="306.68" width="4.6" height="5.4" rx="1.2"/>
<rect x="318.15" y="307.29" width="4.6" height="5.4" rx="1.2"/>
<rect x="333.86" y="307.8" width="4.6" height="5.4" rx="1.2"/>
<rect x="350.08" y="308.23" width="4.6" height="5.4" rx="1.2"/>
<rect x="366.29" y="308.55" width="4.6" height="5.4" rx="1.2"/>
<rect x="382.51" y="308.76" width="4.6" height="5.4" rx="1.2"/>
<rect x="398.72" y="308.87" width="4.6" height="5.4" rx="1.2"/>
<rect x="414.94" y="308.88" width="4.6" height="5.4" rx="1.2"/>
<rect x="431.15" y="308.78" width="4.6" height="5.4" rx="1.2"/>
<rect x="446.87" y="308.58" width="4.6" height="5.4" rx="1.2"/>
<rect x="462.83" y="308.27" width="4.6" height="5.4" rx="1.2"/>
<rect x="479.05" y="307.86" width="4.6" height="5.4" rx="1.2"/>
<rect x="494.76" y="307.35" width="4.6" height="5.4" rx="1.2"/>
<rect x="509.73" y="306.78" width="4.6" height="5.4" rx="1.2"/>
<rect x="525.19" y="306.1" width="4.6" height="5.4" rx="1.2"/>
<rect x="540.41" y="305.33" width="4.6" height="5.4" rx="1.2"/>
<rect x="554.63" y="304.53" width="4.6" height="5.4" rx="1.2"/>
<rect x="226.75" y="318.52" width="4.6" height="5.4" rx="1.2"/>
<rect x="241.18" y="319.58" width="4.6" height="5.4" rx="1.2"/>
<rect x="256.12" y="320.59" width="4.6" height="5.4" rx="1.2"/>
<rect x="271.55" y="321.52" width="4.6" height="5.4" rx="1.2"/>
<rect x="286.98" y="322.36" width="4.6" height="5.4" rx="1.2"/>
<rect x="302.66" y="323.11" width="4.6" height="5.4" rx="1.2"/>
<rect x="318.1" y="323.74" width="4.6" height="5.4" rx="1.2"/>
<rect x="333.78" y="324.28" width="4.6" height="5.4" rx="1.2"/>
<rect x="349.96" y="324.72" width="4.6" height="5.4" rx="1.2"/>
<rect x="366.13" y="325.06" width="4.6" height="5.4" rx="1.2"/>
<rect x="382.31" y="325.28" width="4.6" height="5.4" rx="1.2"/>
<rect x="398.49" y="325.39" width="4.6" height="5.4" rx="1.2"/>
<rect x="414.67" y="325.4" width="4.6" height="5.4" rx="1.2"/>
<rect x="430.85" y="325.28" width="4.6" height="5.4" rx="1.2"/>
<rect x="446.53" y="325.07" width="4.6" height="5.4" rx="1.2"/>
<rect x="462.46" y="324.75" width="4.6" height="5.4" rx="1.2"/>
<rect x="478.64" y="324.31" width="4.6" height="5.4" rx="1.2"/>
<rect x="494.32" y="323.78" width="4.6" height="5.4" rx="1.2"/>
<rect x="509.26" y="323.17" width="4.6" height="5.4" rx="1.2"/>
<rect x="524.69" y="322.45" width="4.6" height="5.4" rx="1.2"/>
<rect x="539.87" y="321.64" width="4.6" height="5.4" rx="1.2"/>
<rect x="554.06" y="320.79" width="4.6" height="5.4" rx="1.2"/>
<rect x="568" y="319.87" width="4.6" height="5.4" rx="1.2"/>
<rect x="226.9" y="334.73" width="4.6" height="5.4" rx="1.2"/>
<rect x="241.3" y="335.84" width="4.6" height="5.4" rx="1.2"/>
<rect x="256.2" y="336.9" width="4.6" height="5.4" rx="1.2"/>
<rect x="271.6" y="337.88" width="4.6" height="5.4" rx="1.2"/>
<rect x="287" y="338.75" width="4.6" height="5.4" rx="1.2"/>
<rect x="302.64" y="339.53" width="4.6" height="5.4" rx="1.2"/>
<rect x="318.04" y="340.19" width="4.6" height="5.4" rx="1.2"/>
<rect x="333.69" y="340.76" width="4.6" height="5.4" rx="1.2"/>
<rect x="349.83" y="341.22" width="4.6" height="5.4" rx="1.2"/>
<rect x="365.98" y="341.57" width="4.6" height="5.4" rx="1.2"/>
<rect x="382.12" y="341.8" width="4.6" height="5.4" rx="1.2"/>
<rect x="398.26" y="341.91" width="4.6" height="5.4" rx="1.2"/>
<rect x="414.41" y="341.91" width="4.6" height="5.4" rx="1.2"/>
<rect x="430.55" y="341.79" width="4.6" height="5.4" rx="1.2"/>
<rect x="446.2" y="341.57" width="4.6" height="5.4" rx="1.2"/>
<rect x="462.09" y="341.22" width="4.6" height="5.4" rx="1.2"/>
<rect x="478.24" y="340.76" width="4.6" height="5.4" rx="1.2"/>
<rect x="493.88" y="340.2" width="4.6" height="5.4" rx="1.2"/>
<rect x="508.78" y="339.56" width="4.6" height="5.4" rx="1.2"/>
<rect x="524.18" y="338.8" width="4.6" height="5.4" rx="1.2"/>
<rect x="539.33" y="337.94" width="4.6" height="5.4" rx="1.2"/>
<rect x="553.49" y="337.05" width="4.6" height="5.4" rx="1.2"/>
<rect x="567.4" y="336.09" width="4.6" height="5.4" rx="1.2"/>
<rect x="227.04" y="350.95" width="4.6" height="5.4" rx="1.2"/>
<rect x="241.42" y="352.11" width="4.6" height="5.4" rx="1.2"/>
<rect x="256.29" y="353.21" width="4.6" height="5.4" rx="1.2"/>
<rect x="271.65" y="354.23" width="4.6" height="5.4" rx="1.2"/>
<rect x="287.01" y="355.14" width="4.6" height="5.4" rx="1.2"/>
<rect x="302.63" y="355.96" width="4.6" height="5.4" rx="1.2"/>
<rect x="317.99" y="356.65" width="4.6" height="5.4" rx="1.2"/>
<rect x="333.6" y="357.23" width="4.6" height="5.4" rx="1.2"/>
<rect x="349.71" y="357.72" width="4.6" height="5.4" rx="1.2"/>
<rect x="365.82" y="358.08" width="4.6" height="5.4" rx="1.2"/>
<rect x="381.93" y="358.32" width="4.6" height="5.4" rx="1.2"/>
<rect x="398.03" y="358.43" width="4.6" height="5.4" rx="1.2"/>
<rect x="414.14" y="358.43" width="4.6" height="5.4" rx="1.2"/>
<rect x="430.25" y="358.3" width="4.6" height="5.4" rx="1.2"/>
<rect x="445.86" y="358.06" width="4.6" height="5.4" rx="1.2"/>
<rect x="461.72" y="357.7" width="4.6" height="5.4" rx="1.2"/>
<rect x="477.83" y="357.21" width="4.6" height="5.4" rx="1.2"/>
<rect x="493.44" y="356.62" width="4.6" height="5.4" rx="1.2"/>
<rect x="508.31" y="355.95" width="4.6" height="5.4" rx="1.2"/>
<rect x="523.68" y="355.14" width="4.6" height="5.4" rx="1.2"/>
<rect x="538.79" y="354.25" width="4.6" height="5.4" rx="1.2"/>
<rect x="552.92" y="353.31" width="4.6" height="5.4" rx="1.2"/>
<rect x="566.8" y="352.3" width="4.6" height="5.4" rx="1.2"/>
<rect x="227.19" y="367.16" width="4.6" height="5.4" rx="1.2"/>
<rect x="241.53" y="368.37" width="4.6" height="5.4" rx="1.2"/>
<rect x="256.37" y="369.52" width="4.6" height="5.4" rx="1.2"/>
<rect x="271.7" y="370.58" width="4.6" height="5.4" rx="1.2"/>
<rect x="287.03" y="371.54" width="4.6" height="5.4" rx="1.2"/>
<rect x="302.61" y="372.38" width="4.6" height="5.4" rx="1.2"/>
<rect x="317.94" y="373.1" width="4.6" height="5.4" rx="1.2"/>
<rect x="333.52" y="373.71" width="4.6" height="5.4" rx="1.2"/>
<rect x="349.59" y="374.21" width="4.6" height="5.4" rx="1.2"/>
<rect x="365.66" y="374.59" width="4.6" height="5.4" rx="1.2"/>
<rect x="381.73" y="374.84" width="4.6" height="5.4" rx="1.2"/>
<rect x="397.81" y="374.95" width="4.6" height="5.4" rx="1.2"/>
<rect x="413.88" y="374.95" width="4.6" height="5.4" rx="1.2"/>
<rect x="429.95" y="374.81" width="4.6" height="5.4" rx="1.2"/>
<rect x="445.53" y="374.55" width="4.6" height="5.4" rx="1.2"/>
<rect x="461.35" y="374.17" width="4.6" height="5.4" rx="1.2"/>
<rect x="477.43" y="373.66" width="4.6" height="5.4" rx="1.2"/>
<rect x="493" y="373.04" width="4.6" height="5.4" rx="1.2"/>
<rect x="507.84" y="372.33" width="4.6" height="5.4" rx="1.2"/>
<rect x="523.17" y="371.49" width="4.6" height="5.4" rx="1.2"/>
<rect x="538.25" y="370.55" width="4.6" height="5.4" rx="1.2"/>
<rect x="552.35" y="369.57" width="4.6" height="5.4" rx="1.2"/>
<rect x="566.19" y="368.51" width="4.6" height="5.4" rx="1.2"/>
<rect x="227.34" y="383.37" width="4.6" height="5.4" rx="1.2"/>
<rect x="241.65" y="384.63" width="4.6" height="5.4" rx="1.2"/>
<rect x="256.45" y="385.83" width="4.6" height="5.4" rx="1.2"/>
<rect x="271.75" y="386.94" width="4.6" height="5.4" rx="1.2"/>
<rect x="287.05" y="387.93" width="4.6" height="5.4" rx="1.2"/>
<rect x="302.59" y="388.81" width="4.6" height="5.4" rx="1.2"/>
<rect x="317.89" y="389.55" width="4.6" height="5.4" rx="1.2"/>
<rect x="333.43" y="390.19" width="4.6" height="5.4" rx="1.2"/>
<rect x="349.47" y="390.71" width="4.6" height="5.4" rx="1.2"/>
<rect x="365.5" y="391.1" width="4.6" height="5.4" rx="1.2"/>
<rect x="381.54" y="391.35" width="4.6" height="5.4" rx="1.2"/>
<rect x="397.58" y="391.47" width="4.6" height="5.4" rx="1.2"/>
<rect x="413.61" y="391.46" width="4.6" height="5.4" rx="1.2"/>
<rect x="429.65" y="391.32" width="4.6" height="5.4" rx="1.2"/>
<rect x="445.19" y="391.05" width="4.6" height="5.4" rx="1.2"/>
<rect x="460.98" y="390.65" width="4.6" height="5.4" rx="1.2"/>
<rect x="477.02" y="390.11" width="4.6" height="5.4" rx="1.2"/>
<rect x="492.56" y="389.46" width="4.6" height="5.4" rx="1.2"/>
<rect x="507.37" y="388.72" width="4.6" height="5.4" rx="1.2"/>
<rect x="522.66" y="387.84" width="4.6" height="5.4" rx="1.2"/>
<rect x="537.71" y="386.86" width="4.6" height="5.4" rx="1.2"/>
<rect x="551.78" y="385.83" width="4.6" height="5.4" rx="1.2"/>
<rect x="565.59" y="384.72" width="4.6" height="5.4" rx="1.2"/>
<rect x="227.49" y="399.59" width="4.6" height="5.4" rx="1.2"/>
<rect x="241.77" y="400.9" width="4.6" height="5.4" rx="1.2"/>
<rect x="256.54" y="402.14" width="4.6" height="5.4" rx="1.2"/>
<rect x="271.8" y="403.29" width="4.6" height="5.4" rx="1.2"/>
<rect x="287.06" y="404.32" width="4.6" height="5.4" rx="1.2"/>
<rect x="302.57" y="405.24" width="4.6" height="5.4" rx="1.2"/>
<rect x="317.83" y="406.01" width="4.6" height="5.4" rx="1.2"/>
<rect x="333.34" y="406.67" width="4.6" height="5.4" rx="1.2"/>
<rect x="349.34" y="407.21" width="4.6" height="5.4" rx="1.2"/>
<rect x="365.35" y="407.61" width="4.6" height="5.4" rx="1.2"/>
<rect x="381.35" y="407.87" width="4.6" height="5.4" rx="1.2"/>
<rect x="397.35" y="407.99" width="4.6" height="5.4" rx="1.2"/>
<rect x="413.35" y="407.98" width="4.6" height="5.4" rx="1.2"/>
<rect x="429.35" y="407.83" width="4.6" height="5.4" rx="1.2"/>
<rect x="444.86" y="407.54" width="4.6" height="5.4" rx="1.2"/>
<rect x="460.61" y="407.12" width="4.6" height="5.4" rx="1.2"/>
<rect x="476.62" y="406.56" width="4.6" height="5.4" rx="1.2"/>
<rect x="492.12" y="405.88" width="4.6" height="5.4" rx="1.2"/>
<rect x="506.9" y="405.11" width="4.6" height="5.4" rx="1.2"/>
<rect x="522.16" y="404.19" width="4.6" height="5.4" rx="1.2"/>
<rect x="537.17" y="403.16" width="4.6" height="5.4" rx="1.2"/>
<rect x="551.21" y="402.09" width="4.6" height="5.4" rx="1.2"/>
<rect x="564.99" y="400.94" width="4.6" height="5.4" rx="1.2"/>
<rect x="227.64" y="415.8" width="4.6" height="5.4" rx="1.2"/>
<rect x="241.88" y="417.16" width="4.6" height="5.4" rx="1.2"/>
<rect x="256.62" y="418.45" width="4.6" height="5.4" rx="1.2"/>
<rect x="271.85" y="419.64" width="4.6" height="5.4" rx="1.2"/>
<rect x="287.08" y="420.71" width="4.6" height="5.4" rx="1.2"/>
<rect x="302.55" y="421.66" width="4.6" height="5.4" rx="1.2"/>
<rect x="317.78" y="422.46" width="4.6" height="5.4" rx="1.2"/>
<rect x="333.26" y="423.14" width="4.6" height="5.4" rx="1.2"/>
<rect x="349.22" y="423.7" width="4.6" height="5.4" rx="1.2"/>
<rect x="365.19" y="424.12" width="4.6" height="5.4" rx="1.2"/>
<rect x="381.15" y="424.39" width="4.6" height="5.4" rx="1.2"/>
<rect x="397.12" y="424.51" width="4.6" height="5.4" rx="1.2"/>
<rect x="413.09" y="424.5" width="4.6" height="5.4" rx="1.2"/>
<rect x="429.05" y="424.33" width="4.6" height="5.4" rx="1.2"/>
<rect x="444.53" y="424.04" width="4.6" height="5.4" rx="1.2"/>
<rect x="460.25" y="423.6" width="4.6" height="5.4" rx="1.2"/>
<rect x="476.21" y="423.01" width="4.6" height="5.4" rx="1.2"/>
<rect x="491.69" y="422.3" width="4.6" height="5.4" rx="1.2"/>
<rect x="506.42" y="421.5" width="4.6" height="5.4" rx="1.2"/>
<rect x="521.65" y="420.54" width="4.6" height="5.4" rx="1.2"/>
<rect x="536.64" y="419.47" width="4.6" height="5.4" rx="1.2"/>
<rect x="550.64" y="418.35" width="4.6" height="5.4" rx="1.2"/>
<rect x="564.39" y="417.15" width="4.6" height="5.4" rx="1.2"/>
<rect x="242" y="433.42" width="4.6" height="5.4" rx="1.2"/>
<rect x="256.7" y="434.76" width="4.6" height="5.4" rx="1.2"/>
<rect x="271.9" y="436" width="4.6" height="5.4" rx="1.2"/>
<rect x="287.09" y="437.1" width="4.6" height="5.4" rx="1.2"/>
<rect x="302.53" y="438.09" width="4.6" height="5.4" rx="1.2"/>
<rect x="317.73" y="438.92" width="4.6" height="5.4" rx="1.2"/>
<rect x="333.17" y="439.62" width="4.6" height="5.4" rx="1.2"/>
<rect x="349.1" y="440.2" width="4.6" height="5.4" rx="1.2"/>
<rect x="365.03" y="440.63" width="4.6" height="5.4" rx="1.2"/>
<rect x="380.96" y="440.91" width="4.6" height="5.4" rx="1.2"/>
<rect x="396.89" y="441.03" width="4.6" height="5.4" rx="1.2"/>
<rect x="412.82" y="441.01" width="4.6" height="5.4" rx="1.2"/>
<rect x="428.75" y="440.84" width="4.6" height="5.4" rx="1.2"/>
<rect x="444.19" y="440.53" width="4.6" height="5.4" rx="1.2"/>
<rect x="459.88" y="440.07" width="4.6" height="5.4" rx="1.2"/>
<rect x="475.81" y="439.46" width="4.6" height="5.4" rx="1.2"/>
<rect x="491.25" y="438.72" width="4.6" height="5.4" rx="1.2"/>
<rect x="505.95" y="437.89" width="4.6" height="5.4" rx="1.2"/>
<rect x="521.15" y="436.89" width="4.6" height="5.4" rx="1.2"/>
<rect x="536.1" y="435.77" width="4.6" height="5.4" rx="1.2"/>
<rect x="550.07" y="434.61" width="4.6" height="5.4" rx="1.2"/>
<rect x="242.12" y="449.69" width="4.6" height="5.4" rx="1.2"/>
<rect x="256.79" y="451.07" width="4.6" height="5.4" rx="1.2"/>
<rect x="271.95" y="452.35" width="4.6" height="5.4" rx="1.2"/>
<rect x="287.11" y="453.49" width="4.6" height="5.4" rx="1.2"/>
<rect x="302.52" y="454.51" width="4.6" height="5.4" rx="1.2"/>
<rect x="317.68" y="455.37" width="4.6" height="5.4" rx="1.2"/>
<rect x="475.4" y="455.91" width="4.6" height="5.4" rx="1.2"/>
<rect x="490.81" y="455.14" width="4.6" height="5.4" rx="1.2"/>
<rect x="505.48" y="454.27" width="4.6" height="5.4" rx="1.2"/>
<rect x="520.64" y="453.24" width="4.6" height="5.4" rx="1.2"/>
<rect x="535.56" y="452.08" width="4.6" height="5.4" rx="1.2"/>
<rect x="549.5" y="450.87" width="4.6" height="5.4" rx="1.2"/>
</g>
<polygon points="218.2,296.2 240,271 246.2,276.36 224.4,301.56" fill="#707076"/>
<line x1="218.96" y1="296.85" x2="240.76" y2="271.65" stroke="#2a2a2c" stroke-width="1.6"/>
<line x1="220.47" y1="298.16" x2="242.27" y2="272.96" stroke="#ececf0" stroke-width="1.1"/>
<line x1="221.6" y1="299.14" x2="243.4" y2="273.94" stroke="#46464a" stroke-width="1.0"/>
<line x1="222.74" y1="300.12" x2="244.54" y2="274.92" stroke="#d4d4da" stroke-width="0.9"/>
<line x1="223.95" y1="301.17" x2="245.75" y2="275.97" stroke="#3a3a3e" stroke-width="1.1"/>
<circle cx="228.9" cy="297.6" r="5.1" fill="#5c5c62" stroke="#2a2a2c" stroke-width="1.2"/>
<circle cx="228.5" cy="297.2" r="3" fill="none" stroke="#9a9aa0" stroke-width="1"/>
<polygon points="559.5,271 582.8,295 576.92,300.72 553.62,276.72" fill="#707076"/>
<line x1="558.78" y1="271.7" x2="582.08" y2="295.7" stroke="#2a2a2c" stroke-width="1.6"/>
<line x1="557.35" y1="273.09" x2="580.65" y2="297.09" stroke="#ececf0" stroke-width="1.1"/>
<line x1="556.27" y1="274.14" x2="579.57" y2="298.14" stroke="#46464a" stroke-width="1.0"/>
<line x1="555.2" y1="275.18" x2="578.5" y2="299.18" stroke="#d4d4da" stroke-width="0.9"/>
<line x1="554.05" y1="276.3" x2="577.35" y2="300.3" stroke="#3a3a3e" stroke-width="1.1"/>
<circle cx="570.4" cy="298.2" r="5.1" fill="#5c5c62" stroke="#2a2a2c" stroke-width="1.2"/>
<circle cx="570" cy="297.8" r="3" fill="none" stroke="#9a9aa0" stroke-width="1"/>
<path d="M223,436.5 H229" stroke="#3a3a3a" stroke-width="2.2"/>
<path d="M577,436.5 H568" stroke="#3a3a3a" stroke-width="2.2"/>
<circle cx="233.1" cy="438.8" r="4.5" fill="#707076" stroke="#2a2a2c" stroke-width="1.7"/>
<circle cx="233.1" cy="438.8" r="1.6" fill="#444"/>
<circle cx="563" cy="439" r="4.5" fill="#707076" stroke="#2a2a2c" stroke-width="1.7"/>
<circle cx="563" cy="439" r="1.6" fill="#444"/>
<rect x="243.6" y="458.3" width="7.9" height="2.6" fill="#3c3c50"/>
<path d="M339,448.6 H461 L478.2,465.5 V481.5 L460.5,498 H340.5 L322.4,481.5 V465.5 Z" fill="#c9c9d3" stroke="#3a3a3e" stroke-width="1"/>
<path d="M352,453.5 H448 L470.5,466 V481.5 L459.5,497.6 H341 L322.9,481.5 V466 H329.6 Z" fill="#404044"/>
<path d="M329.6,466 L352,453.5 H448 L470.5,466" fill="none" stroke="#2c2c30" stroke-width="0.8"/>
<path d="M328,480 L341,493 H384" fill="none" stroke="#f0f0f4" stroke-width="1.8"/>
<path d="M472,480 L459,493 H416" fill="none" stroke="#f0f0f4" stroke-width="1.8"/>
<path d="M342,497.2 H353 M447,497.2 H458" fill="none" stroke="#d8d8de" stroke-width="1.2"/>
<circle cx="353.8" cy="466.4" r="3.4" fill="#505054" stroke="#8a8a90" stroke-width="1"/>
<circle cx="353.8" cy="466.4" r="1.2" fill="#222"/>
<circle cx="444.5" cy="466.4" r="3.4" fill="#505054" stroke="#8a8a90" stroke-width="1"/>
<circle cx="444.5" cy="466.4" r="1.2" fill="#222"/>
<ellipse cx="400" cy="475.2" rx="23.2" ry="20.6" fill="#b4b4bc"/>
<ellipse cx="400" cy="475.2" rx="20.7" ry="18.6" fill="#5c5c62"/>
<ellipse cx="400" cy="475.4" rx="19.5" ry="17.6" fill="url(#sensG)"/>
<path d="M395,442.8 Q400,441.5 405,442.8 L406.2,449 L404,455.5 H396 L393.8,449 Z" fill="#cfcfd8" stroke="#8c8c94" stroke-width="0.8"/>
<g fill="none" stroke="#c4c4ce" stroke-width="0.9"><ellipse cx="400" cy="475.4" rx="11" ry="10"/><ellipse cx="400" cy="475.4" rx="4.5" ry="4"/>
<line x1="404.5" y1="475.4" x2="417" y2="475.4"/>
<line x1="402.25" y1="478.86" x2="408.5" y2="488.82"/>
<line x1="397.75" y1="478.86" x2="391.5" y2="488.82"/>
<line x1="395.5" y1="475.4" x2="383" y2="475.4"/>
<line x1="397.75" y1="471.94" x2="391.5" y2="461.98"/>
<line x1="402.25" y1="471.94" x2="408.5" y2="461.98"/>
</g>
<polygon points="417.16,180.59 417.53,183.24 417.92,185.8 418.32,188.28 418.75,190.65 419.2,192.94 419.66,195.12 420.15,197.21 420.65,199.2 421.18,201.08 421.73,202.87 422.3,204.55 422.9,206.13 423.52,207.61 424.17,208.98 424.85,210.25 425.56,211.42 426.31,212.48 427.11,213.43 427.96,214.27 428.86,215 429.83,215.6 430.87,216.06 431.96,216.36 433.16,216.5 434.55,216.37 435.93,215.9 437.22,215.14 438.42,214.13 439.54,212.91 440.61,211.49 441.63,209.87 442.61,208.06 443.55,206.06 444.46,203.88 445.34,201.52 446.19,198.99 447,196.3 447.78,193.45 448.52,190.45 449.23,187.3 449.9,184.01 450.53,180.59 451.11,177.05 451.66,173.39 452.16,169.62 452.62,165.75 453.03,161.78 453.39,157.74 447.01,157.26 446.77,161.27 446.48,165.16 446.15,168.96 445.77,172.65 445.36,176.24 444.9,179.7 444.4,183.04 443.86,186.25 443.29,189.32 442.69,192.23 442.05,194.99 441.39,197.58 440.7,200 439.99,202.24 439.25,204.28 438.5,206.13 437.75,207.76 436.98,209.18 436.23,210.36 435.49,211.31 434.8,212.01 434.17,212.49 433.62,212.77 433.04,212.9 432.49,212.91 431.87,212.82 431.24,212.63 430.58,212.32 429.91,211.89 429.22,211.33 428.52,210.64 427.81,209.81 427.11,208.84 426.41,207.75 425.73,206.54 425.05,205.19 424.39,203.73 423.75,202.15 423.12,200.46 422.51,198.65 421.91,196.73 421.34,194.71 420.78,192.58 420.24,190.34 419.71,188.01 419.2,185.57 418.72,183.04 418.24,180.41" fill="#ec1318"/>
<path d="M450.9,137.9 L458.1,157 L453.8,158.3 Q450.3,155.8 446.9,157.2 L442.8,155.8 Z" fill="#ec1318"/>
<polygon points="371.7,268.05 372.05,265.82 372.44,263.61 372.86,261.43 373.31,259.28 373.8,257.17 374.32,255.11 374.87,253.11 375.45,251.17 376.06,249.3 376.7,247.51 377.38,245.8 378.08,244.19 378.8,242.68 379.55,241.28 380.32,240 381.12,238.85 381.92,237.84 382.73,236.97 383.54,236.25 384.34,235.69 385.12,235.28 385.86,235.02 386.59,234.9 387.25,234.9 387.91,235.02 388.58,235.31 389.33,235.83 390.15,236.6 391.01,237.62 391.89,238.89 392.77,240.4 393.64,242.14 394.49,244.09 395.32,246.24 396.12,248.58 396.87,251.11 397.59,253.8 398.25,256.65 398.87,259.64 399.42,262.77 399.92,266.03 400.36,269.4 400.72,272.87 401.02,276.44 401.23,280.1 401.37,283.83 401.43,287.62 401.4,291.51 407,291.49 406.95,287.55 406.82,283.63 406.6,279.78 406.3,276.01 405.92,272.33 405.46,268.74 404.94,265.26 404.35,261.9 403.69,258.66 402.98,255.55 402.2,252.58 401.38,249.77 400.5,247.11 399.58,244.63 398.61,242.32 397.59,240.2 396.53,238.26 395.42,236.53 394.26,235.01 393.04,233.69 391.74,232.61 390.35,231.79 388.86,231.26 387.35,231.1 385.97,231.28 384.7,231.67 383.52,232.25 382.43,233 381.42,233.89 380.48,234.91 379.61,236.05 378.79,237.3 378.02,238.65 377.29,240.11 376.6,241.67 375.95,243.31 375.34,245.04 374.76,246.85 374.22,248.73 373.71,250.68 373.24,252.7 372.81,254.76 372.4,256.88 372.03,259.04 371.7,261.23 371.4,263.45 371.13,265.69 370.9,267.95" fill="#ec1318"/>
<path d="M405.3,312.2 L397,291.4 L400.8,291.2 Q404.3,293.3 407.5,290.6 L412.8,289.7 Z" fill="#ec1318"/>
<text x="368.3" y="46.7" font-size="19.6" font-weight="normal" fill="#1a1a1a" textLength="64.6" lengthAdjust="spacingAndGlyphs" style="font-family:'Liberation Sans',sans-serif" >140MM</text>
<text x="581.8" y="123.2" font-size="19.4" font-weight="normal" fill="#1a1a1a" textLength="54" lengthAdjust="spacingAndGlyphs" style="font-family:'Liberation Sans',sans-serif" >83MM</text>
<text x="604.3" y="392" font-size="18.9" font-weight="normal" fill="#1a1a1a" textLength="63.6" lengthAdjust="spacingAndGlyphs" style="font-family:'Liberation Sans',sans-serif" >103MM</text>
<text x="367" y="536.6" font-size="17.5" font-weight="normal" fill="#1a1a1a" textLength="65.5" lengthAdjust="spacingAndGlyphs" style="font-family:'Liberation Sans',sans-serif" >165MM</text>
<text x="458.8" y="216.6" font-size="18.3" font-weight="normal" fill="#c4303a" textLength="43.5" lengthAdjust="spacingAndGlyphs" style="font-family:'Liberation Sans',sans-serif" >180°</text>
<text x="321" y="261.4" font-size="18.6" font-weight="normal" fill="#c4303a" textLength="42.5" lengthAdjust="spacingAndGlyphs" style="font-family:'Liberation Sans',sans-serif" >180°</text>
<rect x="689.2" y="66.6" width="83" height="176.2" rx="11" fill="#fbfbfb" stroke="#2e2e2e" stroke-width="1.6"/>
<circle cx="705.8" cy="89" r="8.8" fill="#2150d6"/>
<circle cx="753.6" cy="88.6" r="8.8" fill="#e23a30"/>
<circle cx="706" cy="131.6" r="8.6" fill="#2150d6"/>
<circle cx="730" cy="131.6" r="8.6" fill="#2150d6"/>
<circle cx="754" cy="131.6" r="8.6" fill="#2150d6"/>
<path d="M722.3,86.3 Q730,80.5 737.7,86.3" fill="none" stroke="#2a48c8" stroke-width="1.6" stroke-linecap="round"/>
<path d="M725.5,89.8 Q730,86.5 734.5,89.8" fill="none" stroke="#2a48c8" stroke-width="1.5" stroke-linecap="round"/>
<circle cx="730" cy="93.6" r="1.1" fill="#2a48c8"/>
<text x="705.8" y="91.5" font-size="7" font-weight="bold" fill="#fff" text-anchor="middle">ON</text>
<text x="753.6" y="91.1" font-size="6.5" font-weight="bold" fill="#fff" text-anchor="middle">OFF</text>
<text x="706" y="133.4" font-size="4.6" font-weight="bold" fill="#fff" text-anchor="middle" textLength="17" lengthAdjust="spacingAndGlyphs">MODE1</text>
<text x="730" y="133.4" font-size="4.6" font-weight="bold" fill="#fff" text-anchor="middle" textLength="17" lengthAdjust="spacingAndGlyphs">MODE2</text>
<text x="754" y="133.4" font-size="4.6" font-weight="bold" fill="#fff" text-anchor="middle" textLength="17" lengthAdjust="spacingAndGlyphs">MODE3</text>
<text x="699.4" y="223.4" font-size="9.6" fill="#6e6e6e" textLength="61.6" lengthAdjust="spacingAndGlyphs" style="font-family:'Liberation Mono',monospace">Remote Control</text>
<rect x="22.4" y="561.4" width="355.45" height="218.7" stroke="#2e2e2e" stroke-width="1.6" fill="none"/>
<line x1="173.6" y1="561.4" x2="173.6" y2="780.1" stroke="#2e2e2e" stroke-width="1.6" fill="none"/>
<line x1="22.4" y1="597.25" x2="377.85" y2="597.25" stroke="#2e2e2e" stroke-width="1.6" fill="none"/>
<line x1="22.4" y1="633.25" x2="377.85" y2="633.25" stroke="#2e2e2e" stroke-width="1.6" fill="none"/>
<line x1="22.4" y1="669.4" x2="377.85" y2="669.4" stroke="#2e2e2e" stroke-width="1.6" fill="none"/>
<line x1="22.4" y1="705.6" x2="377.85" y2="705.6" stroke="#2e2e2e" stroke-width="1.6" fill="none"/>
<line x1="22.4" y1="741.3" x2="377.85" y2="741.3" stroke="#2e2e2e" stroke-width="1.6" fill="none"/>
<rect x="388.35" y="561.4" width="390.25" height="218.7" stroke="#2e2e2e" stroke-width="1.6" fill="none"/>
<line x1="583.4" y1="561.4" x2="583.4" y2="780.1" stroke="#2e2e2e" stroke-width="1.6" fill="none"/>
<line x1="388.35" y1="597.25" x2="778.6" y2="597.25" stroke="#2e2e2e" stroke-width="1.6" fill="none"/>
<line x1="388.35" y1="633.25" x2="778.6" y2="633.25" stroke="#2e2e2e" stroke-width="1.6" fill="none"/>
<line x1="388.35" y1="669.4" x2="778.6" y2="669.4" stroke="#2e2e2e" stroke-width="1.6" fill="none"/>
<line x1="388.35" y1="705.6" x2="778.6" y2="705.6" stroke="#2e2e2e" stroke-width="1.6" fill="none"/>
<line x1="388.35" y1="741.3" x2="778.6" y2="741.3" stroke="#2e2e2e" stroke-width="1.6" fill="none"/>
<text x="30.3" y="583.4" font-size="16.4" font-weight="bold" fill="#151515" textLength="116.95" lengthAdjust="spacingAndGlyphs" style="font-family:'Liberation Sans',sans-serif" >Product Name:</text>
<text x="176.6" y="583.4" font-size="17" font-weight="normal" fill="#151515" textLength="195.4" lengthAdjust="spacingAndGlyphs" style="font-family:'Liberation Sans',sans-serif" >Solar motion sensor light</text>
<text x="394.5" y="583.4" font-size="16.4" font-weight="bold" fill="#151515" textLength="163.7" lengthAdjust="spacingAndGlyphs" style="font-family:'Liberation Sans',sans-serif" >Item Model Number:</text>
<text x="592.4" y="583.4" font-size="17" font-weight="normal" fill="#151515" textLength="90.7" lengthAdjust="spacingAndGlyphs" style="font-family:'Liberation Sans',sans-serif" >TG-TY01003</text>
<text x="30.3" y="619.9" font-size="16.4" font-weight="bold" fill="#151515" textLength="69.7" lengthAdjust="spacingAndGlyphs" style="font-family:'Liberation Sans',sans-serif" >Material:</text>
<text x="176.6" y="619.9" font-size="17" font-weight="normal" fill="#151515" textLength="29.6" lengthAdjust="spacingAndGlyphs" style="font-family:'Liberation Sans',sans-serif" >ABS</text>
<text x="394.5" y="619.9" font-size="16.4" font-weight="bold" fill="#151515" textLength="120.5" lengthAdjust="spacingAndGlyphs" style="font-family:'Liberation Sans',sans-serif" >Working Mode:</text>
<text x="592.4" y="619.9" font-size="17" font-weight="normal" fill="#151515" textLength="129.6" lengthAdjust="spacingAndGlyphs" style="font-family:'Liberation Sans',sans-serif" >3 lighting modes</text>
<text x="30.3" y="656.7" font-size="16.4" font-weight="bold" fill="#151515" textLength="124.7" lengthAdjust="spacingAndGlyphs" style="font-family:'Liberation Sans',sans-serif" >Built-in Battery:</text>
<text x="176.6" y="656.7" font-size="17" font-weight="normal" fill="#151515" textLength="173.4" lengthAdjust="spacingAndGlyphs" style="font-family:'Liberation Sans',sans-serif" >Large capacity battery</text>
<text x="394.5" y="656.7" font-size="16.4" font-weight="bold" fill="#151515" textLength="146.5" lengthAdjust="spacingAndGlyphs" style="font-family:'Liberation Sans',sans-serif" >Light Source Type:</text>
<text x="592.4" y="656.7" font-size="17" font-weight="normal" fill="#151515" textLength="59.6" lengthAdjust="spacingAndGlyphs" style="font-family:'Liberation Sans',sans-serif" >234 LED</text>
<text x="30.3" y="694.5" font-size="16.4" font-weight="bold" fill="#151515" textLength="89.7" lengthAdjust="spacingAndGlyphs" style="font-family:'Liberation Sans',sans-serif" >Light Color:</text>
<text x="176.6" y="694.5" font-size="17" font-weight="normal" fill="#151515" textLength="83.4" lengthAdjust="spacingAndGlyphs" style="font-family:'Liberation Sans',sans-serif" >White light</text>
<text x="394.5" y="694.5" font-size="16.4" font-weight="bold" fill="#151515" textLength="103.5" lengthAdjust="spacingAndGlyphs" style="font-family:'Liberation Sans',sans-serif" >Solar Panels:</text>
<text x="592.4" y="694.5" font-size="17" font-weight="normal" fill="#151515" textLength="165.6" lengthAdjust="spacingAndGlyphs" style="font-family:'Liberation Sans',sans-serif" >Polycrystalline silicon</text>
<text x="30.3" y="731.1" font-size="16.4" font-weight="bold" fill="#151515" textLength="139.7" lengthAdjust="spacingAndGlyphs" style="font-family:'Liberation Sans',sans-serif" >Sensing Distance:</text>
<text x="176.6" y="731.1" font-size="17" font-weight="normal" fill="#151515" textLength="41.9" lengthAdjust="spacingAndGlyphs" style="font-family:'Liberation Sans',sans-serif" >3~5m</text>
<text x="394.5" y="731.1" font-size="16.4" font-weight="bold" fill="#151515" textLength="186.8" lengthAdjust="spacingAndGlyphs" style="font-family:'Liberation Sans',sans-serif" >Water Resistance Level:</text>
<text x="592.4" y="731.1" font-size="17" font-weight="normal" fill="#151515" textLength="178.1" lengthAdjust="spacingAndGlyphs" style="font-family:'Liberation Sans',sans-serif" >Living level waterproof</text>
<text x="30.3" y="768.2" font-size="16.4" font-weight="bold" fill="#151515" textLength="42.2" lengthAdjust="spacingAndGlyphs" style="font-family:'Liberation Sans',sans-serif" >N.W.:</text>
<text x="176.6" y="768.2" font-size="17" font-weight="normal" fill="#151515" textLength="179.9" lengthAdjust="spacingAndGlyphs" style="font-family:'Liberation Sans',sans-serif" >309g (with solar panel)</text>
<text x="394.5" y="768.2" font-size="16.4" font-weight="bold" fill="#151515" textLength="107.2" lengthAdjust="spacingAndGlyphs" style="font-family:'Liberation Sans',sans-serif" >Specific Uses:</text>
<text x="592.4" y="768.2" font-size="17" font-weight="normal" fill="#151515" textLength="94.6" lengthAdjust="spacingAndGlyphs" style="font-family:'Liberation Sans',sans-serif" >Outdoor use</text>
</svg></body></html>
